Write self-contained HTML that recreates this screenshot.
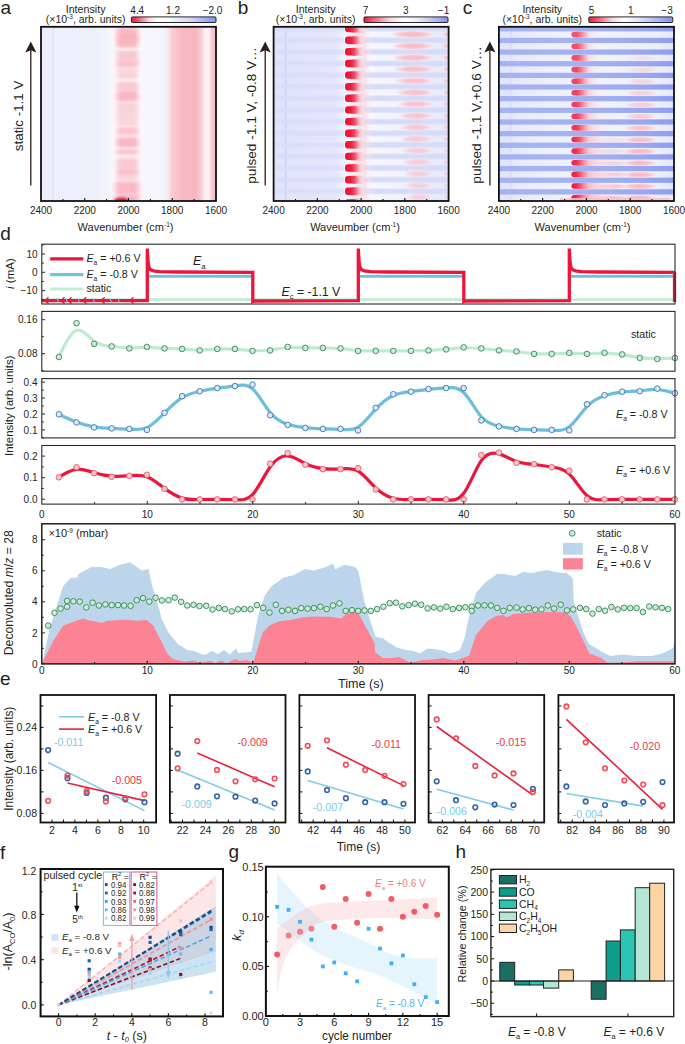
<!DOCTYPE html>
<html><head><meta charset="utf-8"><style>
html,body{margin:0;padding:0;background:#fff;overflow:hidden;width:685px;height:1044px;}
svg{display:block;}
text{font-family:"Liberation Sans", sans-serif;}
</style></head><body>
<svg width="685" height="1044" viewBox="0 0 685 1044">
<defs><clipPath id="clip_a"><rect x="41.0" y="26.8" width="175.0" height="174.2"/></clipPath><clipPath id="clip_b"><rect x="273.6" y="26.8" width="175.0" height="174.2"/></clipPath><clipPath id="clip_c"><rect x="498.9" y="26.8" width="175.10000000000002" height="174.2"/></clipPath><filter id="blur1" x="-5%" y="-5%" width="110%" height="110%"><feGaussianBlur stdDeviation="0.9"/></filter><filter id="blur05" x="-5%" y="-5%" width="110%" height="110%"><feGaussianBlur stdDeviation="0.5"/></filter><linearGradient id="ga_bg" x1="0" y1="0" x2="1" y2="0"><stop offset="0" stop-color="#eceffb"/><stop offset="0.337" stop-color="#eef0fb"/><stop offset="0.394" stop-color="#f4f5fd"/><stop offset="0.411" stop-color="#fbf6f9"/><stop offset="0.571" stop-color="#fcf7f9"/><stop offset="0.589" stop-color="#f7f7fd"/><stop offset="0.709" stop-color="#f4f4fc"/><stop offset="0.726" stop-color="#fbe7eb"/><stop offset="0.749" stop-color="#f9ccd5"/><stop offset="0.806" stop-color="#f7b8c4"/><stop offset="0.886" stop-color="#f7b6c2"/><stop offset="0.92" stop-color="#fad2d9"/><stop offset="0.937" stop-color="#fcf0f2"/><stop offset="0.96" stop-color="#fbf1f4"/><stop offset="0.977" stop-color="#f8c8d1"/><stop offset="1" stop-color="#f5b4c1"/></linearGradient><linearGradient id="ga_band" x1="0" y1="0" x2="1" y2="0"><stop offset="0" stop-color="#f8abba" stop-opacity="0"/><stop offset="0.12" stop-color="#f8abba" stop-opacity="0.5"/><stop offset="0.25" stop-color="#f8abba" stop-opacity="1"/><stop offset="0.75" stop-color="#f8abba" stop-opacity="1"/><stop offset="0.88" stop-color="#f8abba" stop-opacity="0.5"/><stop offset="1" stop-color="#f8abba" stop-opacity="0"/></linearGradient><linearGradient id="gredblob" x1="0" y1="0" x2="1" y2="0"><stop offset="0" stop-color="#ec1536"/><stop offset="0.18" stop-color="#ee1c3b"/><stop offset="0.36" stop-color="#f46b84"/><stop offset="0.55" stop-color="#fbc6d0"/><stop offset="0.78" stop-color="#fdeef1" stop-opacity="0.6"/><stop offset="1" stop-color="#ffffff" stop-opacity="0"/></linearGradient><linearGradient id="gredblob_c" x1="0" y1="0" x2="1" y2="0"><stop offset="0" stop-color="#ec1536"/><stop offset="0.15" stop-color="#ee1d3c"/><stop offset="0.4" stop-color="#f4738a"/><stop offset="0.65" stop-color="#fac3cd" stop-opacity="0.9"/><stop offset="0.85" stop-color="#fde8ec" stop-opacity="0.5"/><stop offset="1" stop-color="#ffffff" stop-opacity="0"/></linearGradient><radialGradient id="rgpink" cx="0.5" cy="0.5" r="0.5"><stop offset="0" stop-color="#f8b9c4"/><stop offset="0.5" stop-color="#f9c1ca"/><stop offset="0.8" stop-color="#fbd5dc" stop-opacity="0.7"/><stop offset="1" stop-color="#fdf0f2" stop-opacity="0"/></radialGradient><linearGradient id="gb_bg" x1="0" y1="0" x2="1" y2="0"><stop offset="0" stop-color="#e0e4f9"/><stop offset="0.35" stop-color="#e4e7fa"/><stop offset="0.4" stop-color="#eef0fc"/><stop offset="0.5" stop-color="#f8f8fd"/><stop offset="0.68" stop-color="#f3f4fc"/><stop offset="1" stop-color="#e6e9fa"/></linearGradient><linearGradient id="gc_bg" x1="0" y1="0" x2="1" y2="0"><stop offset="0" stop-color="#a4b1f3"/><stop offset="0.3" stop-color="#a6b3f2"/><stop offset="0.6" stop-color="#a2afef"/><stop offset="0.85" stop-color="#98a7f0"/><stop offset="1" stop-color="#8e9df0"/></linearGradient><linearGradient id="gc_wh" x1="0" y1="0" x2="1" y2="0"><stop offset="0" stop-color="#e2e6fa"/><stop offset="0.07" stop-color="#e2e6fa"/><stop offset="0.08" stop-color="#d9def9"/><stop offset="0.09" stop-color="#e6e9fb"/><stop offset="0.3" stop-color="#eef0fc"/><stop offset="0.6" stop-color="#f1f2fc"/><stop offset="0.9" stop-color="#eceefc"/><stop offset="1" stop-color="#e4e7fb"/></linearGradient><linearGradient id="gc_white" x1="0" y1="0" x2="0" y2="1"><stop offset="0" stop-color="#f6f7fe" stop-opacity="0"/><stop offset="0.22" stop-color="#f6f7fe" stop-opacity="0.97"/><stop offset="0.78" stop-color="#f6f7fe" stop-opacity="0.97"/><stop offset="1" stop-color="#f6f7fe" stop-opacity="0"/></linearGradient><radialGradient id="rgred_c" cx="0.5" cy="0.5" r="0.55" fx="0.08" fy="0.7"><stop offset="0" stop-color="#ee1c3a"/><stop offset="0.22" stop-color="#f03250"/><stop offset="0.5" stop-color="#f5879a" stop-opacity="0.9"/><stop offset="0.8" stop-color="#fbd0d8" stop-opacity="0.6"/><stop offset="1" stop-color="#fde6ea" stop-opacity="0"/></radialGradient><radialGradient id="rgred_b" cx="0.5" cy="0.5" r="0.55" fx="0.05" fy="0.5"><stop offset="0" stop-color="#ec1536"/><stop offset="0.3" stop-color="#ee1f3e"/><stop offset="0.6" stop-color="#f47088" stop-opacity="0.95"/><stop offset="0.85" stop-color="#fbd0d8" stop-opacity="0.6"/><stop offset="1" stop-color="#fde6ea" stop-opacity="0"/></radialGradient><linearGradient id="gbcore" x1="0" y1="0" x2="1" y2="0"><stop offset="0" stop-color="#ec1637"/><stop offset="0.4" stop-color="#ee1c3b"/><stop offset="0.7" stop-color="#f2506a"/><stop offset="1" stop-color="#f68c9d" stop-opacity="0.5"/></linearGradient><linearGradient id="gbtail" x1="0" y1="0" x2="1" y2="0"><stop offset="0" stop-color="#f47f93"/><stop offset="0.3" stop-color="#f7a9b7" stop-opacity="0.9"/><stop offset="0.65" stop-color="#fad0d8" stop-opacity="0.6"/><stop offset="1" stop-color="#fdf0f3" stop-opacity="0"/></linearGradient><linearGradient id="gccore" x1="0" y1="0" x2="1" y2="0"><stop offset="0" stop-color="#ee1a39"/><stop offset="0.25" stop-color="#ef2341"/><stop offset="0.55" stop-color="#f35a73"/><stop offset="1" stop-color="#f8a5b2" stop-opacity="0.3"/></linearGradient><linearGradient id="gctail" x1="0" y1="0" x2="1" y2="0"><stop offset="0" stop-color="#f47f93"/><stop offset="0.35" stop-color="#f8b2bf" stop-opacity="0.9"/><stop offset="0.7" stop-color="#fbd6dd" stop-opacity="0.55"/><stop offset="1" stop-color="#fdf0f3" stop-opacity="0"/></linearGradient><linearGradient id="gb_stripe" x1="0" y1="0" x2="0" y2="1"><stop offset="0" stop-color="#d6dcf8" stop-opacity="0"/><stop offset="0.3" stop-color="#d6dcf8" stop-opacity="1"/><stop offset="0.7" stop-color="#d6dcf8" stop-opacity="1"/><stop offset="1" stop-color="#d6dcf8" stop-opacity="0"/></linearGradient><linearGradient id="gcb_a" x1="0" y1="0" x2="1" y2="0"><stop offset="0" stop-color="#ee1d3b"/><stop offset="0.08" stop-color="#f2566c"/><stop offset="0.2" stop-color="#fbd0d7"/><stop offset="0.3" stop-color="#ffffff"/><stop offset="0.45" stop-color="#f8f8fe"/><stop offset="0.7" stop-color="#d2d8f7"/><stop offset="1" stop-color="#8393ee"/></linearGradient><linearGradient id="gcb_b" x1="0" y1="0" x2="1" y2="0"><stop offset="0" stop-color="#ee1d3b"/><stop offset="0.12" stop-color="#f3637a"/><stop offset="0.3" stop-color="#fbd4da"/><stop offset="0.48" stop-color="#ffffff"/><stop offset="0.65" stop-color="#e9ecfb"/><stop offset="1" stop-color="#8393ee"/></linearGradient><linearGradient id="gcb_c" x1="0" y1="0" x2="1" y2="0"><stop offset="0" stop-color="#ee1d3b"/><stop offset="0.12" stop-color="#f3637a"/><stop offset="0.28" stop-color="#fbd8de"/><stop offset="0.42" stop-color="#ffffff"/><stop offset="0.6" stop-color="#dfe3f9"/><stop offset="1" stop-color="#8393ee"/></linearGradient><clipPath id="clip_d5"><rect x="41.8" y="523.8" width="633.2" height="140.10000000000002"/></clipPath><clipPath id="clip_e0"><rect x="40.5" y="695.0" width="115.6" height="127.5"/></clipPath><clipPath id="clip_e1"><rect x="169.9" y="695.0" width="115.6" height="127.5"/></clipPath><clipPath id="clip_e2"><rect x="299.4" y="695.0" width="115.6" height="127.5"/></clipPath><clipPath id="clip_e3"><rect x="428.6" y="695.0" width="115.6" height="127.5"/></clipPath><clipPath id="clip_e4"><rect x="558.4" y="695.0" width="115.6" height="127.5"/></clipPath><clipPath id="clip_f"><rect x="40.6" y="869.0" width="182.4" height="147.39999999999998"/></clipPath><clipPath id="clip_g"><rect x="265.9" y="866.7" width="182.90000000000003" height="149.29999999999995"/></clipPath></defs>
<rect x="0" y="0" width="685" height="1044" fill="#fff"/>
<g clip-path="url(#clip_a)">
<rect x="41.00" y="26.80" width="175.00" height="174.20" fill="url(#ga_bg)" stroke="none" stroke-width="1"/>
<line x1="53.00" y1="26.80" x2="53.00" y2="201.00" stroke="#d8ddf8" stroke-width="1.2"/>
<g filter="url(#blur1)">
<rect x="113.5" y="24" width="28.0" height="4.6" rx="2.3" fill="url(#ga_band)" opacity="0.50"/>
<rect x="113.5" y="28.6" width="28.0" height="19.0" rx="5.0" fill="url(#ga_band)" opacity="0.80"/>
<rect x="113.5" y="34" width="28.0" height="9.0" rx="4.5" fill="url(#ga_band)" opacity="0.45"/>
<rect x="113.5" y="47.6" width="28.0" height="2.9" rx="1.4" fill="url(#ga_band)" opacity="0.12"/>
<rect x="113.5" y="50.5" width="28.0" height="7.5" rx="3.8" fill="url(#ga_band)" opacity="0.60"/>
<rect x="113.5" y="58" width="28.0" height="9.0" rx="4.5" fill="url(#ga_band)" opacity="0.62"/>
<rect x="113.5" y="62.5" width="28.0" height="3.0" rx="1.5" fill="url(#ga_band)" opacity="0.35"/>
<rect x="113.5" y="67" width="28.0" height="2.0" rx="1.0" fill="url(#ga_band)" opacity="0.35"/>
<rect x="113.5" y="69" width="28.0" height="10.0" rx="5.0" fill="url(#ga_band)" opacity="0.45"/>
<rect x="113.5" y="79" width="28.0" height="3.0" rx="1.5" fill="url(#ga_band)" opacity="0.08"/>
<rect x="113.5" y="82" width="28.0" height="10.0" rx="5.0" fill="url(#ga_band)" opacity="0.60"/>
<rect x="113.5" y="92" width="28.0" height="9.0" rx="4.5" fill="url(#ga_band)" opacity="0.85"/>
<rect x="113.5" y="101" width="28.0" height="2.0" rx="1.0" fill="url(#ga_band)" opacity="0.20"/>
<rect x="113.5" y="103" width="28.0" height="9.0" rx="4.5" fill="url(#ga_band)" opacity="0.50"/>
<rect x="113.5" y="112" width="28.0" height="13.0" rx="5.0" fill="url(#ga_band)" opacity="0.45"/>
<rect x="113.5" y="125" width="28.0" height="2.5" rx="1.2" fill="url(#ga_band)" opacity="0.25"/>
<rect x="113.5" y="127.5" width="28.0" height="6.5" rx="3.2" fill="url(#ga_band)" opacity="0.65"/>
<rect x="113.5" y="134" width="28.0" height="4.0" rx="2.0" fill="url(#ga_band)" opacity="0.35"/>
<rect x="113.5" y="138" width="28.0" height="9.0" rx="4.5" fill="url(#ga_band)" opacity="0.85"/>
<rect x="113.5" y="147" width="28.0" height="2.5" rx="1.2" fill="url(#ga_band)" opacity="0.10"/>
<rect x="113.5" y="149.5" width="28.0" height="4.5" rx="2.2" fill="url(#ga_band)" opacity="0.70"/>
<rect x="113.5" y="154" width="28.0" height="5.0" rx="2.5" fill="url(#ga_band)" opacity="0.20"/>
<rect x="113.5" y="159" width="28.0" height="10.0" rx="5.0" fill="url(#ga_band)" opacity="0.60"/>
<rect x="113.5" y="169" width="28.0" height="6.0" rx="3.0" fill="url(#ga_band)" opacity="0.70"/>
<rect x="113.5" y="175" width="28.0" height="5.0" rx="2.5" fill="url(#ga_band)" opacity="0.45"/>
<rect x="111.5" y="180" width="31.5" height="2.0" rx="1.0" fill="url(#ga_band)" opacity="0.30"/>
<rect x="111.5" y="182" width="31.5" height="11.0" rx="5.0" fill="url(#ga_band)" opacity="0.80"/>
<rect x="111.5" y="193" width="31.5" height="3.0" rx="1.5" fill="url(#ga_band)" opacity="0.60"/>
<rect x="111.5" y="196" width="31.5" height="7.0" rx="3.5" fill="url(#ga_band)" opacity="0.85"/>
<ellipse cx="121.5" cy="200.5" rx="7.5" ry="3.2" fill="#ee1e3c"/>
</g>
</g>
<rect x="41.00" y="26.80" width="175.00" height="174.20" fill="none" stroke="#111" stroke-width="1.8"/>
<g clip-path="url(#clip_b)">
<rect x="273.60" y="26.80" width="175.00" height="174.20" fill="url(#gb_bg)" stroke="none" stroke-width="1"/>
<line x1="285.60" y1="26.80" x2="285.60" y2="201.00" stroke="#cdd4f7" stroke-width="1.8"/>
<g filter="url(#blur05)">
<rect x="273.60" y="13.38" width="70.40" height="7.20" fill="url(#gb_stripe)" stroke="none" stroke-width="1" opacity="0.7"/>
<rect x="364" y="13.1" width="86.60000000000002" height="7.8" rx="3.9" fill="url(#gb_stripe)" opacity="1"/>
<rect x="273.60" y="25.00" width="70.40" height="7.20" fill="url(#gb_stripe)" stroke="none" stroke-width="1" opacity="0.7"/>
<rect x="364" y="24.7" width="86.60000000000002" height="7.8" rx="3.9" fill="url(#gb_stripe)" opacity="1"/>
<rect x="273.60" y="36.62" width="70.40" height="7.20" fill="url(#gb_stripe)" stroke="none" stroke-width="1" opacity="0.7"/>
<rect x="364" y="36.3" width="86.60000000000002" height="7.8" rx="3.9" fill="url(#gb_stripe)" opacity="1"/>
<rect x="273.60" y="48.24" width="70.40" height="7.20" fill="url(#gb_stripe)" stroke="none" stroke-width="1" opacity="0.7"/>
<rect x="364" y="47.9" width="86.60000000000002" height="7.8" rx="3.9" fill="url(#gb_stripe)" opacity="1"/>
<rect x="273.60" y="59.86" width="70.40" height="7.20" fill="url(#gb_stripe)" stroke="none" stroke-width="1" opacity="0.7"/>
<rect x="364" y="59.6" width="86.60000000000002" height="7.8" rx="3.9" fill="url(#gb_stripe)" opacity="1"/>
<rect x="273.60" y="71.48" width="70.40" height="7.20" fill="url(#gb_stripe)" stroke="none" stroke-width="1" opacity="0.7"/>
<rect x="364" y="71.2" width="86.60000000000002" height="7.8" rx="3.9" fill="url(#gb_stripe)" opacity="1"/>
<rect x="273.60" y="83.10" width="70.40" height="7.20" fill="url(#gb_stripe)" stroke="none" stroke-width="1" opacity="0.7"/>
<rect x="364" y="82.8" width="86.60000000000002" height="7.8" rx="3.9" fill="url(#gb_stripe)" opacity="1"/>
<rect x="273.60" y="94.72" width="70.40" height="7.20" fill="url(#gb_stripe)" stroke="none" stroke-width="1" opacity="0.7"/>
<rect x="364" y="94.4" width="86.60000000000002" height="7.8" rx="3.9" fill="url(#gb_stripe)" opacity="1"/>
<rect x="273.60" y="106.34" width="70.40" height="7.20" fill="url(#gb_stripe)" stroke="none" stroke-width="1" opacity="0.7"/>
<rect x="364" y="106.0" width="86.60000000000002" height="7.8" rx="3.9" fill="url(#gb_stripe)" opacity="1"/>
<rect x="273.60" y="117.96" width="70.40" height="7.20" fill="url(#gb_stripe)" stroke="none" stroke-width="1" opacity="0.7"/>
<rect x="364" y="117.7" width="86.60000000000002" height="7.8" rx="3.9" fill="url(#gb_stripe)" opacity="1"/>
<rect x="273.60" y="129.58" width="70.40" height="7.20" fill="url(#gb_stripe)" stroke="none" stroke-width="1" opacity="0.7"/>
<rect x="364" y="129.3" width="86.60000000000002" height="7.8" rx="3.9" fill="url(#gb_stripe)" opacity="1"/>
<rect x="273.60" y="141.20" width="70.40" height="7.20" fill="url(#gb_stripe)" stroke="none" stroke-width="1" opacity="0.7"/>
<rect x="364" y="140.9" width="86.60000000000002" height="7.8" rx="3.9" fill="url(#gb_stripe)" opacity="1"/>
<rect x="273.60" y="152.82" width="70.40" height="7.20" fill="url(#gb_stripe)" stroke="none" stroke-width="1" opacity="0.7"/>
<rect x="364" y="152.5" width="86.60000000000002" height="7.8" rx="3.9" fill="url(#gb_stripe)" opacity="1"/>
<rect x="273.60" y="164.44" width="70.40" height="7.20" fill="url(#gb_stripe)" stroke="none" stroke-width="1" opacity="0.7"/>
<rect x="364" y="164.1" width="86.60000000000002" height="7.8" rx="3.9" fill="url(#gb_stripe)" opacity="1"/>
<rect x="273.60" y="176.06" width="70.40" height="7.20" fill="url(#gb_stripe)" stroke="none" stroke-width="1" opacity="0.7"/>
<rect x="364" y="175.8" width="86.60000000000002" height="7.8" rx="3.9" fill="url(#gb_stripe)" opacity="1"/>
<rect x="273.60" y="187.68" width="70.40" height="7.20" fill="url(#gb_stripe)" stroke="none" stroke-width="1" opacity="0.7"/>
<rect x="364" y="187.4" width="86.60000000000002" height="7.8" rx="3.9" fill="url(#gb_stripe)" opacity="1"/>
<rect x="273.60" y="199.30" width="70.40" height="7.20" fill="url(#gb_stripe)" stroke="none" stroke-width="1" opacity="0.7"/>
<rect x="364" y="199.0" width="86.60000000000002" height="7.8" rx="3.9" fill="url(#gb_stripe)" opacity="1"/>
<ellipse cx="412.5" cy="22.8" rx="23.5" ry="3.9" fill="url(#rgpink)" opacity="1.00"/>
<ellipse cx="447" cy="22.8" rx="4.5" ry="2.6" fill="url(#rgpink)" opacity="0.90"/>
<ellipse cx="362" cy="22.8" rx="9" ry="2.2" fill="url(#rgpink)" opacity="0.35"/>
<ellipse cx="412.5" cy="34.4" rx="23.5" ry="3.9" fill="url(#rgpink)" opacity="1.00"/>
<ellipse cx="447" cy="34.4" rx="4.5" ry="2.6" fill="url(#rgpink)" opacity="0.90"/>
<ellipse cx="362" cy="34.4" rx="9" ry="2.2" fill="url(#rgpink)" opacity="0.35"/>
<ellipse cx="413.0" cy="46.0" rx="22.8" ry="3.9" fill="url(#rgpink)" opacity="0.97"/>
<ellipse cx="447" cy="46.0" rx="4.5" ry="2.6" fill="url(#rgpink)" opacity="0.86"/>
<ellipse cx="362" cy="46.0" rx="9" ry="2.2" fill="url(#rgpink)" opacity="0.35"/>
<ellipse cx="413.4" cy="57.7" rx="22.1" ry="3.9" fill="url(#rgpink)" opacity="0.94"/>
<ellipse cx="447" cy="57.7" rx="4.5" ry="2.6" fill="url(#rgpink)" opacity="0.83"/>
<ellipse cx="362" cy="57.7" rx="9" ry="2.2" fill="url(#rgpink)" opacity="0.35"/>
<ellipse cx="413.9" cy="69.3" rx="21.5" ry="3.9" fill="url(#rgpink)" opacity="0.90"/>
<ellipse cx="447" cy="69.3" rx="4.5" ry="2.6" fill="url(#rgpink)" opacity="0.79"/>
<ellipse cx="362" cy="69.3" rx="9" ry="2.2" fill="url(#rgpink)" opacity="0.35"/>
<ellipse cx="414.4" cy="80.9" rx="20.8" ry="3.9" fill="url(#rgpink)" opacity="0.87"/>
<ellipse cx="447" cy="80.9" rx="4.5" ry="2.6" fill="url(#rgpink)" opacity="0.76"/>
<ellipse cx="362" cy="80.9" rx="9" ry="2.2" fill="url(#rgpink)" opacity="0.35"/>
<ellipse cx="414.8" cy="92.5" rx="20.1" ry="3.9" fill="url(#rgpink)" opacity="0.84"/>
<ellipse cx="447" cy="92.5" rx="4.5" ry="2.6" fill="url(#rgpink)" opacity="0.72"/>
<ellipse cx="362" cy="92.5" rx="9" ry="2.2" fill="url(#rgpink)" opacity="0.35"/>
<ellipse cx="415.3" cy="104.1" rx="19.4" ry="3.9" fill="url(#rgpink)" opacity="0.81"/>
<ellipse cx="447" cy="104.1" rx="4.5" ry="2.6" fill="url(#rgpink)" opacity="0.69"/>
<ellipse cx="362" cy="104.1" rx="9" ry="2.2" fill="url(#rgpink)" opacity="0.35"/>
<ellipse cx="415.8" cy="115.8" rx="18.8" ry="3.9" fill="url(#rgpink)" opacity="0.78"/>
<ellipse cx="447" cy="115.8" rx="4.5" ry="2.6" fill="url(#rgpink)" opacity="0.65"/>
<ellipse cx="362" cy="115.8" rx="9" ry="2.2" fill="url(#rgpink)" opacity="0.35"/>
<ellipse cx="416.2" cy="127.4" rx="18.1" ry="3.9" fill="url(#rgpink)" opacity="0.74"/>
<ellipse cx="447" cy="127.4" rx="4.5" ry="2.6" fill="url(#rgpink)" opacity="0.61"/>
<ellipse cx="362" cy="127.4" rx="9" ry="2.2" fill="url(#rgpink)" opacity="0.35"/>
<ellipse cx="416.7" cy="139.0" rx="17.4" ry="3.9" fill="url(#rgpink)" opacity="0.71"/>
<ellipse cx="447" cy="139.0" rx="4.5" ry="2.6" fill="url(#rgpink)" opacity="0.58"/>
<ellipse cx="362" cy="139.0" rx="9" ry="2.2" fill="url(#rgpink)" opacity="0.35"/>
<ellipse cx="417.1" cy="150.6" rx="16.7" ry="3.9" fill="url(#rgpink)" opacity="0.68"/>
<ellipse cx="447" cy="150.6" rx="4.5" ry="2.6" fill="url(#rgpink)" opacity="0.54"/>
<ellipse cx="362" cy="150.6" rx="9" ry="2.2" fill="url(#rgpink)" opacity="0.35"/>
<ellipse cx="417.6" cy="162.2" rx="16.0" ry="3.9" fill="url(#rgpink)" opacity="0.65"/>
<ellipse cx="447" cy="162.2" rx="4.5" ry="2.6" fill="url(#rgpink)" opacity="0.51"/>
<ellipse cx="362" cy="162.2" rx="9" ry="2.2" fill="url(#rgpink)" opacity="0.35"/>
<ellipse cx="418.1" cy="173.8" rx="15.4" ry="3.9" fill="url(#rgpink)" opacity="0.61"/>
<ellipse cx="447" cy="173.8" rx="4.5" ry="2.6" fill="url(#rgpink)" opacity="0.47"/>
<ellipse cx="362" cy="173.8" rx="9" ry="2.2" fill="url(#rgpink)" opacity="0.35"/>
<ellipse cx="418.5" cy="185.5" rx="14.7" ry="3.9" fill="url(#rgpink)" opacity="0.58"/>
<ellipse cx="447" cy="185.5" rx="4.5" ry="2.6" fill="url(#rgpink)" opacity="0.44"/>
<ellipse cx="362" cy="185.5" rx="9" ry="2.2" fill="url(#rgpink)" opacity="0.35"/>
<ellipse cx="419.0" cy="197.1" rx="14.0" ry="3.9" fill="url(#rgpink)" opacity="0.55"/>
<ellipse cx="447" cy="197.1" rx="4.5" ry="2.6" fill="url(#rgpink)" opacity="0.40"/>
<ellipse cx="362" cy="197.1" rx="9" ry="2.2" fill="url(#rgpink)" opacity="0.35"/>
<ellipse cx="419.0" cy="208.7" rx="14.0" ry="3.9" fill="url(#rgpink)" opacity="0.55"/>
<ellipse cx="447" cy="208.7" rx="4.5" ry="2.6" fill="url(#rgpink)" opacity="0.40"/>
<ellipse cx="362" cy="208.7" rx="9" ry="2.2" fill="url(#rgpink)" opacity="0.35"/>
<rect x="349" y="24.3" width="24" height="8.6" rx="4.3" fill="url(#gbtail)"/>
<rect x="345.0" y="24.9" width="14" height="7.4" rx="3.0" fill="url(#gbcore)"/>
<rect x="349" y="35.9" width="24" height="8.6" rx="4.3" fill="url(#gbtail)"/>
<rect x="345.0" y="36.5" width="14" height="7.4" rx="3.0" fill="url(#gbcore)"/>
<rect x="349" y="47.5" width="24" height="8.6" rx="4.3" fill="url(#gbtail)"/>
<rect x="345.0" y="48.1" width="14" height="7.4" rx="3.0" fill="url(#gbcore)"/>
<rect x="349" y="59.2" width="24" height="8.6" rx="4.3" fill="url(#gbtail)"/>
<rect x="345.0" y="59.8" width="14" height="7.4" rx="3.0" fill="url(#gbcore)"/>
<rect x="349" y="70.8" width="24" height="8.6" rx="4.3" fill="url(#gbtail)"/>
<rect x="345.0" y="71.4" width="14" height="7.4" rx="3.0" fill="url(#gbcore)"/>
<rect x="349" y="82.4" width="24" height="8.6" rx="4.3" fill="url(#gbtail)"/>
<rect x="345.0" y="83.0" width="14" height="7.4" rx="3.0" fill="url(#gbcore)"/>
<rect x="349" y="94.0" width="24" height="8.6" rx="4.3" fill="url(#gbtail)"/>
<rect x="345.0" y="94.6" width="14" height="7.4" rx="3.0" fill="url(#gbcore)"/>
<rect x="349" y="105.6" width="24" height="8.6" rx="4.3" fill="url(#gbtail)"/>
<rect x="345.0" y="106.2" width="14" height="7.4" rx="3.0" fill="url(#gbcore)"/>
<rect x="349" y="117.3" width="24" height="8.6" rx="4.3" fill="url(#gbtail)"/>
<rect x="345.0" y="117.9" width="14" height="7.4" rx="3.0" fill="url(#gbcore)"/>
<rect x="349" y="128.9" width="24" height="8.6" rx="4.3" fill="url(#gbtail)"/>
<rect x="345.0" y="129.5" width="14" height="7.4" rx="3.0" fill="url(#gbcore)"/>
<rect x="349" y="140.5" width="24" height="8.6" rx="4.3" fill="url(#gbtail)"/>
<rect x="345.0" y="141.1" width="14" height="7.4" rx="3.0" fill="url(#gbcore)"/>
<rect x="349" y="152.1" width="24" height="8.6" rx="4.3" fill="url(#gbtail)"/>
<rect x="345.0" y="152.7" width="14" height="7.4" rx="3.0" fill="url(#gbcore)"/>
<rect x="349" y="163.7" width="24" height="8.6" rx="4.3" fill="url(#gbtail)"/>
<rect x="345.0" y="164.3" width="14" height="7.4" rx="3.0" fill="url(#gbcore)"/>
<rect x="349" y="175.4" width="24" height="8.6" rx="4.3" fill="url(#gbtail)"/>
<rect x="345.0" y="176.0" width="14" height="7.4" rx="3.0" fill="url(#gbcore)"/>
<rect x="349" y="187.0" width="24" height="8.6" rx="4.3" fill="url(#gbtail)"/>
<rect x="345.0" y="187.6" width="14" height="7.4" rx="3.0" fill="url(#gbcore)"/>
<rect x="349" y="198.6" width="24" height="8.6" rx="4.3" fill="url(#gbtail)"/>
<rect x="345.0" y="199.2" width="14" height="7.4" rx="3.0" fill="url(#gbcore)"/>
</g>
</g>
<rect x="273.60" y="26.80" width="175.00" height="174.20" fill="none" stroke="#111" stroke-width="1.8"/>
<g clip-path="url(#clip_c)">
<rect x="498.90" y="26.80" width="175.10" height="174.20" fill="url(#gc_bg)" stroke="none" stroke-width="1"/>
<g filter="url(#blur05)">
<rect x="496.90" y="31.40" width="179.10" height="6.40" fill="url(#gc_wh)" stroke="none" stroke-width="1"/>
<rect x="496.90" y="43.05" width="179.10" height="6.40" fill="url(#gc_wh)" stroke="none" stroke-width="1"/>
<rect x="496.90" y="54.70" width="179.10" height="6.40" fill="url(#gc_wh)" stroke="none" stroke-width="1"/>
<rect x="496.90" y="66.35" width="179.10" height="6.40" fill="url(#gc_wh)" stroke="none" stroke-width="1"/>
<rect x="496.90" y="78.00" width="179.10" height="6.40" fill="url(#gc_wh)" stroke="none" stroke-width="1"/>
<rect x="496.90" y="89.65" width="179.10" height="6.40" fill="url(#gc_wh)" stroke="none" stroke-width="1"/>
<rect x="496.90" y="101.30" width="179.10" height="6.40" fill="url(#gc_wh)" stroke="none" stroke-width="1"/>
<rect x="496.90" y="112.95" width="179.10" height="6.40" fill="url(#gc_wh)" stroke="none" stroke-width="1"/>
<rect x="496.90" y="124.60" width="179.10" height="6.40" fill="url(#gc_wh)" stroke="none" stroke-width="1"/>
<rect x="496.90" y="136.25" width="179.10" height="6.40" fill="url(#gc_wh)" stroke="none" stroke-width="1"/>
<rect x="496.90" y="147.90" width="179.10" height="6.40" fill="url(#gc_wh)" stroke="none" stroke-width="1"/>
<rect x="496.90" y="159.55" width="179.10" height="6.40" fill="url(#gc_wh)" stroke="none" stroke-width="1"/>
<rect x="496.90" y="171.20" width="179.10" height="6.40" fill="url(#gc_wh)" stroke="none" stroke-width="1"/>
<rect x="496.90" y="182.85" width="179.10" height="6.40" fill="url(#gc_wh)" stroke="none" stroke-width="1"/>
<rect x="496.90" y="194.50" width="179.10" height="6.40" fill="url(#gc_wh)" stroke="none" stroke-width="1"/>
</g>
<g filter="url(#blur05)">
<rect x="575" y="31.5" width="24.0" height="6.2" rx="3.1" fill="url(#gctail)" opacity="0.60"/>
<rect x="571.4" y="31.8" width="17" height="5.6" rx="2.8" fill="url(#gccore)" opacity="0.72"/>
<rect x="575" y="43.1" width="25.0" height="6.2" rx="3.1" fill="url(#gctail)" opacity="0.63"/>
<rect x="571.4" y="43.5" width="17" height="5.6" rx="2.8" fill="url(#gccore)" opacity="0.74"/>
<ellipse cx="642.4" cy="58.2" rx="15.6" ry="3.3" fill="url(#rgpink)" opacity="0.30"/>
<rect x="575" y="54.8" width="26.0" height="6.2" rx="3.1" fill="url(#gctail)" opacity="0.66"/>
<rect x="571.4" y="55.1" width="17" height="5.6" rx="2.8" fill="url(#gccore)" opacity="0.76"/>
<ellipse cx="642.1" cy="69.9" rx="15.9" ry="3.3" fill="url(#rgpink)" opacity="0.39"/>
<rect x="575" y="66.5" width="27.0" height="6.2" rx="3.1" fill="url(#gctail)" opacity="0.69"/>
<rect x="571.4" y="66.8" width="17" height="5.6" rx="2.8" fill="url(#gccore)" opacity="0.78"/>
<ellipse cx="641.9" cy="81.5" rx="16.1" ry="3.3" fill="url(#rgpink)" opacity="0.48"/>
<rect x="575" y="78.1" width="28.0" height="6.2" rx="3.1" fill="url(#gctail)" opacity="0.71"/>
<rect x="571.4" y="78.4" width="17" height="5.6" rx="2.8" fill="url(#gccore)" opacity="0.80"/>
<ellipse cx="641.6" cy="93.1" rx="16.4" ry="3.3" fill="url(#rgpink)" opacity="0.57"/>
<rect x="575" y="89.8" width="29.0" height="6.2" rx="3.1" fill="url(#gctail)" opacity="0.74"/>
<rect x="571.4" y="90.0" width="17" height="5.6" rx="2.8" fill="url(#gccore)" opacity="0.82"/>
<ellipse cx="641.3" cy="104.8" rx="16.7" ry="3.3" fill="url(#rgpink)" opacity="0.66"/>
<rect x="575" y="101.4" width="30.0" height="6.2" rx="3.1" fill="url(#gctail)" opacity="0.77"/>
<rect x="571.4" y="101.7" width="17" height="5.6" rx="2.8" fill="url(#gccore)" opacity="0.84"/>
<ellipse cx="641.0" cy="116.5" rx="17.0" ry="3.3" fill="url(#rgpink)" opacity="0.75"/>
<rect x="575" y="113.1" width="31.0" height="6.2" rx="3.1" fill="url(#gctail)" opacity="0.80"/>
<rect x="571.4" y="113.4" width="17" height="5.6" rx="2.8" fill="url(#gccore)" opacity="0.86"/>
<ellipse cx="640.7" cy="128.1" rx="17.3" ry="3.3" fill="url(#rgpink)" opacity="0.84"/>
<rect x="575" y="124.7" width="32.0" height="6.2" rx="3.1" fill="url(#gctail)" opacity="0.83"/>
<rect x="571.4" y="125.0" width="17" height="5.6" rx="2.8" fill="url(#gccore)" opacity="0.88"/>
<ellipse cx="640.4" cy="139.8" rx="17.6" ry="3.3" fill="url(#rgpink)" opacity="0.93"/>
<ellipse cx="610" cy="139.8" rx="22" ry="3.0" fill="url(#rgpink)" opacity="0.30"/>
<rect x="575" y="136.4" width="33.0" height="6.2" rx="3.1" fill="url(#gctail)" opacity="0.86"/>
<rect x="571.4" y="136.7" width="17" height="5.6" rx="2.8" fill="url(#gccore)" opacity="0.90"/>
<ellipse cx="640.1" cy="151.4" rx="17.9" ry="3.3" fill="url(#rgpink)" opacity="1.00"/>
<ellipse cx="610" cy="151.4" rx="22" ry="3.0" fill="url(#rgpink)" opacity="0.42"/>
<rect x="575" y="148.0" width="34.0" height="6.2" rx="3.1" fill="url(#gctail)" opacity="0.89"/>
<rect x="571.4" y="148.3" width="17" height="5.6" rx="2.8" fill="url(#gccore)" opacity="0.92"/>
<ellipse cx="639.9" cy="163.1" rx="18.1" ry="3.3" fill="url(#rgpink)" opacity="1.00"/>
<ellipse cx="610" cy="163.1" rx="22" ry="3.0" fill="url(#rgpink)" opacity="0.54"/>
<rect x="575" y="159.7" width="35.0" height="6.2" rx="3.1" fill="url(#gctail)" opacity="0.91"/>
<rect x="571.4" y="159.9" width="17" height="5.6" rx="2.8" fill="url(#gccore)" opacity="0.94"/>
<ellipse cx="639.6" cy="174.7" rx="18.4" ry="3.3" fill="url(#rgpink)" opacity="1.00"/>
<ellipse cx="610" cy="174.7" rx="22" ry="3.0" fill="url(#rgpink)" opacity="0.66"/>
<rect x="575" y="171.3" width="36.0" height="6.2" rx="3.1" fill="url(#gctail)" opacity="0.94"/>
<rect x="571.4" y="171.6" width="17" height="5.6" rx="2.8" fill="url(#gccore)" opacity="0.96"/>
<ellipse cx="639.3" cy="186.4" rx="18.7" ry="3.3" fill="url(#rgpink)" opacity="1.00"/>
<ellipse cx="610" cy="186.4" rx="22" ry="3.0" fill="url(#rgpink)" opacity="0.78"/>
<rect x="575" y="183.0" width="37.0" height="6.2" rx="3.1" fill="url(#gctail)" opacity="0.97"/>
<rect x="571.4" y="183.2" width="17" height="5.6" rx="2.8" fill="url(#gccore)" opacity="0.98"/>
<ellipse cx="639.0" cy="198.0" rx="19.0" ry="3.3" fill="url(#rgpink)" opacity="1.00"/>
<ellipse cx="610" cy="198.0" rx="22" ry="3.0" fill="url(#rgpink)" opacity="0.90"/>
<rect x="575" y="194.6" width="38.0" height="6.2" rx="3.1" fill="url(#gctail)" opacity="1.00"/>
<rect x="571.4" y="194.9" width="17" height="5.6" rx="2.8" fill="url(#gccore)" opacity="1.00"/>
<rect x="560" y="198.0" width="110" height="4" fill="#f8c0ca" opacity="0.85"/>
</g>
</g>
<rect x="498.90" y="26.80" width="175.10" height="174.20" fill="none" stroke="#111" stroke-width="1.8"/>
<text x="41.0" y="213.5" font-size="10" text-anchor="middle" fill="#231f20">2400</text>
<line x1="62.88" y1="201.00" x2="62.88" y2="199.00" stroke="#111" stroke-width="1.1"/>
<line x1="84.75" y1="201.00" x2="84.75" y2="198.00" stroke="#111" stroke-width="1.1"/>
<text x="84.8" y="213.5" font-size="10" text-anchor="middle" fill="#231f20">2200</text>
<line x1="106.62" y1="201.00" x2="106.62" y2="199.00" stroke="#111" stroke-width="1.1"/>
<line x1="128.50" y1="201.00" x2="128.50" y2="198.00" stroke="#111" stroke-width="1.1"/>
<text x="128.5" y="213.5" font-size="10" text-anchor="middle" fill="#231f20">2000</text>
<line x1="150.38" y1="201.00" x2="150.38" y2="199.00" stroke="#111" stroke-width="1.1"/>
<line x1="172.25" y1="201.00" x2="172.25" y2="198.00" stroke="#111" stroke-width="1.1"/>
<text x="172.2" y="213.5" font-size="10" text-anchor="middle" fill="#231f20">1800</text>
<line x1="194.12" y1="201.00" x2="194.12" y2="199.00" stroke="#111" stroke-width="1.1"/>
<text x="216.0" y="213.5" font-size="10" text-anchor="middle" fill="#231f20">1600</text>
<text x="273.6" y="213.5" font-size="10" text-anchor="middle" fill="#231f20">2400</text>
<line x1="295.48" y1="201.00" x2="295.48" y2="199.00" stroke="#111" stroke-width="1.1"/>
<line x1="317.35" y1="201.00" x2="317.35" y2="198.00" stroke="#111" stroke-width="1.1"/>
<text x="317.4" y="213.5" font-size="10" text-anchor="middle" fill="#231f20">2200</text>
<line x1="339.23" y1="201.00" x2="339.23" y2="199.00" stroke="#111" stroke-width="1.1"/>
<line x1="361.10" y1="201.00" x2="361.10" y2="198.00" stroke="#111" stroke-width="1.1"/>
<text x="361.1" y="213.5" font-size="10" text-anchor="middle" fill="#231f20">2000</text>
<line x1="382.98" y1="201.00" x2="382.98" y2="199.00" stroke="#111" stroke-width="1.1"/>
<line x1="404.85" y1="201.00" x2="404.85" y2="198.00" stroke="#111" stroke-width="1.1"/>
<text x="404.9" y="213.5" font-size="10" text-anchor="middle" fill="#231f20">1800</text>
<line x1="426.73" y1="201.00" x2="426.73" y2="199.00" stroke="#111" stroke-width="1.1"/>
<text x="448.6" y="213.5" font-size="10" text-anchor="middle" fill="#231f20">1600</text>
<text x="498.9" y="213.5" font-size="10" text-anchor="middle" fill="#231f20">2400</text>
<line x1="520.79" y1="201.00" x2="520.79" y2="199.00" stroke="#111" stroke-width="1.1"/>
<line x1="542.67" y1="201.00" x2="542.67" y2="198.00" stroke="#111" stroke-width="1.1"/>
<text x="542.7" y="213.5" font-size="10" text-anchor="middle" fill="#231f20">2200</text>
<line x1="564.56" y1="201.00" x2="564.56" y2="199.00" stroke="#111" stroke-width="1.1"/>
<line x1="586.45" y1="201.00" x2="586.45" y2="198.00" stroke="#111" stroke-width="1.1"/>
<text x="586.5" y="213.5" font-size="10" text-anchor="middle" fill="#231f20">2000</text>
<line x1="608.34" y1="201.00" x2="608.34" y2="199.00" stroke="#111" stroke-width="1.1"/>
<line x1="630.23" y1="201.00" x2="630.23" y2="198.00" stroke="#111" stroke-width="1.1"/>
<text x="630.2" y="213.5" font-size="10" text-anchor="middle" fill="#231f20">1800</text>
<line x1="652.11" y1="201.00" x2="652.11" y2="199.00" stroke="#111" stroke-width="1.1"/>
<text x="674.0" y="213.5" font-size="10" text-anchor="middle" fill="#231f20">1600</text>
<text x="125.5" y="230.7" font-size="11" text-anchor="middle" fill="#231f20">Wavenumber (cm<tspan font-size="6.5" dy="-4">-1</tspan><tspan dy="4">)</tspan></text>
<text x="355.0" y="230.7" font-size="11" text-anchor="middle" fill="#231f20">Waveumber (cm<tspan font-size="6.5" dy="-4">-1</tspan><tspan dy="4">)</tspan></text>
<text x="582.5" y="230.7" font-size="11" text-anchor="middle" fill="#231f20">Wavenumber (cm<tspan font-size="6.5" dy="-4">-1</tspan><tspan dy="4">)</tspan></text>
<rect x="131.4" y="16.9" width="84.6" height="5.6" rx="1" fill="url(#gcb_a)" stroke="#111" stroke-width="0.9"/>
<text x="137.2" y="14.2" font-size="10" text-anchor="middle" fill="#231f20">4.4</text>
<text x="173.0" y="14.2" font-size="10" text-anchor="middle" fill="#231f20">1.2</text>
<text x="212.5" y="14.2" font-size="10" text-anchor="middle" fill="#231f20">−2.0</text>
<text x="85.6" y="12.6" font-size="10.7" text-anchor="middle" fill="#231f20">Intensity</text>
<text x="85.6" y="23.2" font-size="10.5" text-anchor="middle" fill="#231f20">(×10<tspan font-size="6.5" dy="-4">-3</tspan><tspan dy="4">, arb. units)</tspan></text>
<rect x="364.0" y="16.9" width="84.0" height="5.6" rx="1" fill="url(#gcb_b)" stroke="#111" stroke-width="0.9"/>
<text x="365.6" y="14.2" font-size="10" text-anchor="middle" fill="#231f20">7</text>
<text x="405.7" y="14.2" font-size="10" text-anchor="middle" fill="#231f20">3</text>
<text x="443.5" y="14.2" font-size="10" text-anchor="middle" fill="#231f20">−1</text>
<text x="315.6" y="12.6" font-size="10.7" text-anchor="middle" fill="#231f20">Intensity</text>
<text x="315.6" y="23.2" font-size="10.5" text-anchor="middle" fill="#231f20">(×10<tspan font-size="6.5" dy="-4">-3</tspan><tspan dy="4">, arb. units)</tspan></text>
<rect x="588.8" y="16.9" width="84.0" height="5.6" rx="1" fill="url(#gcb_c)" stroke="#111" stroke-width="0.9"/>
<text x="591.5" y="14.2" font-size="10" text-anchor="middle" fill="#231f20">5</text>
<text x="630.7" y="14.2" font-size="10" text-anchor="middle" fill="#231f20">1</text>
<text x="667.0" y="14.2" font-size="10" text-anchor="middle" fill="#231f20">−3</text>
<text x="542.3" y="12.6" font-size="10.7" text-anchor="middle" fill="#231f20">Intensity</text>
<text x="542.3" y="23.2" font-size="10.5" text-anchor="middle" fill="#231f20">(×10<tspan font-size="6.5" dy="-4">-3</tspan><tspan dy="4">, arb. units)</tspan></text>
<text x="0.5" y="13.8" font-size="19" text-anchor="start" fill="#231f20">a</text>
<text x="237.8" y="14.0" font-size="19" text-anchor="start" fill="#231f20">b</text>
<text x="462.8" y="14.0" font-size="19" text-anchor="start" fill="#231f20">c</text>
<line x1="30.80" y1="185.50" x2="30.80" y2="50.00" stroke="#2b1d1d" stroke-width="1.3"/>
<polygon points="30.8,41.5 25.2,52.5 30.8,50.3 36.4,52.5" fill="#2b1d1d" stroke="none" stroke-width="1"/>
<line x1="265.20" y1="185.50" x2="265.20" y2="50.00" stroke="#2b1d1d" stroke-width="1.3"/>
<polygon points="265.2,41.5 259.6,52.5 265.2,50.3 270.8,52.5" fill="#2b1d1d" stroke="none" stroke-width="1"/>
<line x1="489.90" y1="185.50" x2="489.90" y2="50.00" stroke="#2b1d1d" stroke-width="1.3"/>
<polygon points="489.9,41.5 484.3,52.5 489.9,50.3 495.5,52.5" fill="#2b1d1d" stroke="none" stroke-width="1"/>
<text x="23.0" y="115.9" font-size="13.4" text-anchor="middle" fill="#231f20" textLength="70.6" lengthAdjust="spacingAndGlyphs" transform="rotate(-90 23.0 115.9)">static -1.1 V</text>
<text x="256.2" y="115.4" font-size="13.5" text-anchor="middle" fill="#231f20" textLength="136.6" lengthAdjust="spacingAndGlyphs" transform="rotate(-90 256.2 115.4)">pulsed -1.1 V, -0.8 V…</text>
<text x="480.9" y="115.0" font-size="13.5" text-anchor="middle" fill="#231f20" textLength="137.5" lengthAdjust="spacingAndGlyphs" transform="rotate(-90 480.9 115.0)">pulsed -1.1 V,+0.6 V…</text>
<text x="0.3" y="239.5" font-size="19" text-anchor="start" fill="#231f20">d</text>
<line x1="41.80" y1="299.60" x2="675.00" y2="299.60" stroke="#c3ebd6" stroke-width="2.8"/>
<line x1="148.30" y1="276.40" x2="252.30" y2="276.40" stroke="#6fc0dd" stroke-width="2.8"/>
<line x1="359.30" y1="276.40" x2="463.30" y2="276.40" stroke="#6fc0dd" stroke-width="2.8"/>
<line x1="570.30" y1="276.40" x2="674.30" y2="276.40" stroke="#6fc0dd" stroke-width="2.8"/>
<path d="M41.8,300.6 L147.3,300.6 L147.3,300.6 L147.3,248.6 L148.1,262 L148.9,267 L150.3,269.5 L153.3,270.8 L159.3,271.6 L177.3,272.0 L252.8,272.3 L252.8,301.5 L254.3,301.0 L358.3,300.6 L358.3,300.6 L358.3,248.6 L359.1,262 L359.9,267 L361.3,269.5 L364.3,270.8 L370.3,271.6 L388.3,272.0 L463.8,272.3 L463.8,301.5 L465.3,301.0 L569.3,300.6 L569.3,300.6 L569.3,248.6 L570.1,262 L570.9,267 L572.3,269.5 L575.3,270.8 L581.3,271.6 L599.3,272.0 L674.8,272.3 L674.5,272.3 L674.5,302" fill="none" stroke="#e8173b" stroke-width="3.3" stroke-linejoin="miter"/>
<polyline points="48.5,297.2 45.0,300.6 48.5,303.6" fill="none" stroke="#e8173b" stroke-width="1.3"/>
<polyline points="64.5,297.2 61.0,300.6 64.5,303.6" fill="none" stroke="#e8173b" stroke-width="1.3"/>
<polyline points="71.5,297.2 68.0,300.6 71.5,303.6" fill="none" stroke="#e8173b" stroke-width="1.3"/>
<polyline points="86.3,297.2 82.8,300.6 86.3,303.6" fill="none" stroke="#e8173b" stroke-width="1.3"/>
<polyline points="104.7,297.2 101.2,300.6 104.7,303.6" fill="none" stroke="#e8173b" stroke-width="1.3"/>
<polyline points="133.5,297.2 130.0,300.6 133.5,303.6" fill="none" stroke="#e8173b" stroke-width="1.3"/>
<polyline points="57.0,298.0 58.5,302.5" fill="none" stroke="#8ccbe4" stroke-width="1"/>
<polyline points="66.0,298.0 67.5,302.5" fill="none" stroke="#8ccbe4" stroke-width="1"/>
<polyline points="78.0,298.0 79.5,302.5" fill="none" stroke="#8ccbe4" stroke-width="1"/>
<polyline points="93.0,298.0 94.5,302.5" fill="none" stroke="#8ccbe4" stroke-width="1"/>
<polyline points="110.0,298.0 111.5,302.5" fill="none" stroke="#8ccbe4" stroke-width="1"/>
<polyline points="118.0,298.0 119.5,302.5" fill="none" stroke="#8ccbe4" stroke-width="1"/>
<rect x="41.80" y="244.20" width="633.20" height="59.80" fill="none" stroke="#2a2a2a" stroke-width="1.1"/>
<line x1="41.80" y1="254.00" x2="45.00" y2="254.00" stroke="#2a2a2a" stroke-width="1"/>
<line x1="41.80" y1="272.30" x2="45.00" y2="272.30" stroke="#2a2a2a" stroke-width="1"/>
<line x1="41.80" y1="290.60" x2="45.00" y2="290.60" stroke="#2a2a2a" stroke-width="1"/>
<line x1="41.80" y1="244.85" x2="43.80" y2="244.85" stroke="#2a2a2a" stroke-width="1"/>
<line x1="41.80" y1="263.15" x2="43.80" y2="263.15" stroke="#2a2a2a" stroke-width="1"/>
<line x1="41.80" y1="281.45" x2="43.80" y2="281.45" stroke="#2a2a2a" stroke-width="1"/>
<line x1="41.80" y1="299.75" x2="43.80" y2="299.75" stroke="#2a2a2a" stroke-width="1"/>
<text x="37.5" y="257.6" font-size="10" text-anchor="end" fill="#231f20">10</text>
<text x="37.5" y="275.9" font-size="10" text-anchor="end" fill="#231f20">0</text>
<text x="37.5" y="294.2" font-size="10" text-anchor="end" fill="#231f20">−10</text>
<line x1="50.20" y1="258.90" x2="83.40" y2="258.90" stroke="#e8173b" stroke-width="3.2"/>
<line x1="50.20" y1="274.70" x2="83.40" y2="274.70" stroke="#72c1de" stroke-width="3.2"/>
<line x1="50.20" y1="289.00" x2="83.40" y2="289.00" stroke="#c3ebd6" stroke-width="3.2"/>
<text x="86.4" y="262.2" font-size="10.7" fill="#231f20" text-anchor="start"><tspan font-style="italic">E</tspan><tspan font-size="6.6" dy="3.0">a</tspan><tspan dy="-3.0"> = +0.6 V</tspan></text>
<text x="86.4" y="277.9" font-size="10.7" fill="#231f20" text-anchor="start"><tspan font-style="italic">E</tspan><tspan font-size="6.6" dy="3.0">a</tspan><tspan dy="-3.0"> = -0.8 V</tspan></text>
<text x="86.4" y="292.0" font-size="10.7" text-anchor="start" fill="#231f20">static</text>
<text x="193.0" y="265.2" font-size="12.5" fill="#231f20" text-anchor="start"><tspan font-style="italic">E</tspan><tspan font-size="7.8" dy="3.5">a</tspan><tspan dy="-3.5"></tspan></text>
<text x="281.5" y="295.5" font-size="12.3" fill="#231f20" text-anchor="start"><tspan font-style="italic">E</tspan><tspan font-size="7.6" dy="3.4">c</tspan><tspan dy="-3.4"> = -1.1 V</tspan></text>
<text x="14.2" y="273.6" font-size="11.5" text-anchor="middle" fill="#231f20" transform="rotate(-90 14.2 273.6)"><tspan font-style="italic">i</tspan> (mA)</text>
<path d="M58.9,357.0 C58.9,357.0 58.9,357.0 61.8,350.8 C64.8,344.7 70.6,332.3 76.5,330.3 C82.4,328.3 88.2,336.6 94.1,341.0 C100.0,345.5 105.8,345.9 111.7,346.5 C117.6,347.2 123.4,347.9 129.3,347.9 C135.2,348.0 141.0,347.4 146.9,347.3 C152.8,347.3 158.6,347.9 164.5,348.2 C170.4,348.6 176.2,348.7 182.1,349.1 C188.0,349.4 193.8,350.0 199.7,350.0 C205.6,350.0 211.4,349.4 217.3,349.1 C223.2,348.8 229.0,348.8 234.9,349.2 C240.8,349.5 246.6,350.3 252.5,350.6 C258.4,350.9 264.2,350.7 270.1,350.0 C276.0,349.3 281.8,347.9 287.7,347.5 C293.6,347.1 299.4,347.5 305.3,347.7 C311.2,347.9 317.0,347.9 322.9,348.0 C328.8,348.0 334.6,348.1 340.5,348.7 C346.4,349.2 352.2,350.1 358.1,350.6 C364.0,351.0 369.8,350.9 375.7,350.9 C381.6,350.9 387.4,350.9 393.3,350.9 C399.2,350.9 405.0,350.9 410.9,350.8 C416.8,350.8 422.6,350.6 428.5,350.4 C434.4,350.1 440.2,349.8 446.1,349.2 C452.0,348.7 457.8,348.0 463.7,347.8 C469.6,347.6 475.4,348.0 481.3,348.5 C487.2,349.0 493.0,349.8 498.9,350.2 C504.8,350.7 510.6,351.0 516.5,351.6 C522.4,352.2 528.2,353.1 534.1,353.6 C540.0,354.0 545.8,354.0 551.7,353.8 C557.6,353.6 563.4,353.2 569.3,353.2 C575.2,353.2 581.0,353.6 586.9,353.6 C592.8,353.6 598.6,353.2 604.5,353.2 C610.4,353.3 616.2,353.8 622.1,354.7 C628.0,355.5 633.8,356.8 639.7,357.6 C645.6,358.4 651.4,358.8 657.3,358.7 C663.2,358.7 669.0,358.3 672.0,358.1 C674.9,357.9 674.9,357.9 674.9,357.9" fill="none" stroke="#bfe9d3" stroke-width="3.2" stroke-linecap="round"/>
<circle cx="58.9" cy="357.0" r="2.8" fill="#c9eed9" stroke="#3d8456" stroke-width="0.9"/>
<circle cx="76.5" cy="323.2" r="2.8" fill="#c9eed9" stroke="#3d8456" stroke-width="0.9"/>
<circle cx="94.1" cy="343.9" r="2.8" fill="#c9eed9" stroke="#3d8456" stroke-width="0.9"/>
<circle cx="111.7" cy="346.4" r="2.8" fill="#c9eed9" stroke="#3d8456" stroke-width="0.9"/>
<circle cx="129.3" cy="348.4" r="2.8" fill="#c9eed9" stroke="#3d8456" stroke-width="0.9"/>
<circle cx="146.9" cy="346.9" r="2.8" fill="#c9eed9" stroke="#3d8456" stroke-width="0.9"/>
<circle cx="164.5" cy="348.4" r="2.8" fill="#c9eed9" stroke="#3d8456" stroke-width="0.9"/>
<circle cx="182.1" cy="348.9" r="2.8" fill="#c9eed9" stroke="#3d8456" stroke-width="0.9"/>
<circle cx="199.7" cy="350.4" r="2.8" fill="#c9eed9" stroke="#3d8456" stroke-width="0.9"/>
<circle cx="217.3" cy="348.9" r="2.8" fill="#c9eed9" stroke="#3d8456" stroke-width="0.9"/>
<circle cx="234.9" cy="348.9" r="2.8" fill="#c9eed9" stroke="#3d8456" stroke-width="0.9"/>
<circle cx="252.5" cy="350.9" r="2.8" fill="#c9eed9" stroke="#3d8456" stroke-width="0.9"/>
<circle cx="270.1" cy="350.4" r="2.8" fill="#c9eed9" stroke="#3d8456" stroke-width="0.9"/>
<circle cx="287.7" cy="346.9" r="2.8" fill="#c9eed9" stroke="#3d8456" stroke-width="0.9"/>
<circle cx="305.3" cy="347.9" r="2.8" fill="#c9eed9" stroke="#3d8456" stroke-width="0.9"/>
<circle cx="322.9" cy="347.9" r="2.8" fill="#c9eed9" stroke="#3d8456" stroke-width="0.9"/>
<circle cx="340.5" cy="348.4" r="2.8" fill="#c9eed9" stroke="#3d8456" stroke-width="0.9"/>
<circle cx="358.1" cy="350.9" r="2.8" fill="#c9eed9" stroke="#3d8456" stroke-width="0.9"/>
<circle cx="375.7" cy="350.9" r="2.8" fill="#c9eed9" stroke="#3d8456" stroke-width="0.9"/>
<circle cx="393.3" cy="350.9" r="2.8" fill="#c9eed9" stroke="#3d8456" stroke-width="0.9"/>
<circle cx="410.9" cy="350.9" r="2.8" fill="#c9eed9" stroke="#3d8456" stroke-width="0.9"/>
<circle cx="428.5" cy="350.4" r="2.8" fill="#c9eed9" stroke="#3d8456" stroke-width="0.9"/>
<circle cx="446.1" cy="349.4" r="2.8" fill="#c9eed9" stroke="#3d8456" stroke-width="0.9"/>
<circle cx="463.7" cy="347.4" r="2.8" fill="#c9eed9" stroke="#3d8456" stroke-width="0.9"/>
<circle cx="481.3" cy="348.4" r="2.8" fill="#c9eed9" stroke="#3d8456" stroke-width="0.9"/>
<circle cx="498.9" cy="350.4" r="2.8" fill="#c9eed9" stroke="#3d8456" stroke-width="0.9"/>
<circle cx="516.5" cy="351.4" r="2.8" fill="#c9eed9" stroke="#3d8456" stroke-width="0.9"/>
<circle cx="534.1" cy="353.9" r="2.8" fill="#c9eed9" stroke="#3d8456" stroke-width="0.9"/>
<circle cx="551.7" cy="353.9" r="2.8" fill="#c9eed9" stroke="#3d8456" stroke-width="0.9"/>
<circle cx="569.3" cy="352.9" r="2.8" fill="#c9eed9" stroke="#3d8456" stroke-width="0.9"/>
<circle cx="586.9" cy="353.9" r="2.8" fill="#c9eed9" stroke="#3d8456" stroke-width="0.9"/>
<circle cx="604.5" cy="352.9" r="2.8" fill="#c9eed9" stroke="#3d8456" stroke-width="0.9"/>
<circle cx="622.1" cy="354.4" r="2.8" fill="#c9eed9" stroke="#3d8456" stroke-width="0.9"/>
<circle cx="639.7" cy="357.9" r="2.8" fill="#c9eed9" stroke="#3d8456" stroke-width="0.9"/>
<circle cx="657.3" cy="359.0" r="2.8" fill="#c9eed9" stroke="#3d8456" stroke-width="0.9"/>
<circle cx="674.9" cy="357.9" r="2.8" fill="#c9eed9" stroke="#3d8456" stroke-width="0.9"/>
<rect x="41.80" y="311.40" width="633.20" height="59.80" fill="none" stroke="#2a2a2a" stroke-width="1.1"/>
<line x1="41.80" y1="319.70" x2="45.00" y2="319.70" stroke="#2a2a2a" stroke-width="1"/>
<line x1="41.80" y1="353.70" x2="45.00" y2="353.70" stroke="#2a2a2a" stroke-width="1"/>
<line x1="41.80" y1="336.70" x2="43.80" y2="336.70" stroke="#2a2a2a" stroke-width="1"/>
<line x1="41.80" y1="370.70" x2="43.80" y2="370.70" stroke="#2a2a2a" stroke-width="1"/>
<text x="37.5" y="323.3" font-size="10" text-anchor="end" fill="#231f20">0.16</text>
<text x="37.5" y="357.3" font-size="10" text-anchor="end" fill="#231f20">0.08</text>
<text x="631.0" y="338.0" font-size="10.7" text-anchor="start" fill="#231f20">static</text>
<path d="M58.9,414.3 C58.9,414.3 58.9,414.3 61.8,415.7 C64.8,417.1 70.6,419.8 76.5,422.0 C82.4,424.3 88.2,425.9 94.1,426.9 C100.0,427.9 105.8,428.2 111.7,428.4 C117.6,428.6 123.4,428.7 129.3,429.1 C135.2,429.6 141.0,430.3 146.9,427.6 C152.8,424.9 158.6,418.8 164.5,412.9 C170.4,407.0 176.2,401.3 182.1,397.7 C188.0,394.0 193.8,392.6 199.7,391.3 C205.6,390.1 211.4,389.1 217.3,388.2 C223.2,387.4 229.0,386.7 234.9,385.8 C240.8,385.0 246.6,383.8 252.5,388.9 C258.4,394.0 264.2,405.3 270.1,412.4 C276.0,419.4 281.8,422.4 287.7,424.3 C293.6,426.2 299.4,427.1 305.3,427.7 C311.2,428.3 317.0,428.6 322.9,428.8 C328.8,428.9 334.6,428.9 340.5,429.3 C346.4,429.8 352.2,430.8 358.1,427.2 C364.0,423.6 369.8,415.5 375.7,409.1 C381.6,402.7 387.4,398.1 393.3,395.5 C399.2,392.9 405.0,392.3 410.9,391.6 C416.8,390.8 422.6,389.9 428.5,389.3 C434.4,388.7 440.2,388.4 446.1,387.9 C452.0,387.4 457.8,386.8 463.7,392.5 C469.6,398.1 475.4,410.0 481.3,416.8 C487.2,423.5 493.0,425.0 498.9,426.2 C504.8,427.4 510.6,428.2 516.5,428.8 C522.4,429.3 528.2,429.6 534.1,429.8 C540.0,429.9 545.8,429.9 551.7,430.2 C557.6,430.6 563.4,431.3 569.3,426.8 C575.2,422.4 581.0,412.8 586.9,406.6 C592.8,400.4 598.6,397.7 604.5,395.7 C610.4,393.8 616.2,392.6 622.1,392.1 C628.0,391.5 633.8,391.4 639.7,390.8 C645.6,390.3 651.4,389.2 657.3,389.5 C663.2,389.9 669.0,391.5 672.0,392.4 C674.9,393.2 674.9,393.2 674.9,393.2" fill="none" stroke="#6cbedc" stroke-width="3.2" stroke-linecap="round"/>
<circle cx="58.9" cy="414.3" r="2.8" fill="#d8eaf7" stroke="#3e72b3" stroke-width="0.9"/>
<circle cx="76.5" cy="422.4" r="2.8" fill="#d8eaf7" stroke="#3e72b3" stroke-width="0.9"/>
<circle cx="94.1" cy="427.4" r="2.8" fill="#d8eaf7" stroke="#3e72b3" stroke-width="0.9"/>
<circle cx="111.7" cy="428.4" r="2.8" fill="#d8eaf7" stroke="#3e72b3" stroke-width="0.9"/>
<circle cx="129.3" cy="428.9" r="2.8" fill="#d8eaf7" stroke="#3e72b3" stroke-width="0.9"/>
<circle cx="146.9" cy="429.9" r="2.8" fill="#d8eaf7" stroke="#3e72b3" stroke-width="0.9"/>
<circle cx="164.5" cy="412.8" r="2.8" fill="#d8eaf7" stroke="#3e72b3" stroke-width="0.9"/>
<circle cx="182.1" cy="396.2" r="2.8" fill="#d8eaf7" stroke="#3e72b3" stroke-width="0.9"/>
<circle cx="199.7" cy="391.2" r="2.8" fill="#d8eaf7" stroke="#3e72b3" stroke-width="0.9"/>
<circle cx="217.3" cy="388.1" r="2.8" fill="#d8eaf7" stroke="#3e72b3" stroke-width="0.9"/>
<circle cx="234.9" cy="386.1" r="2.8" fill="#d8eaf7" stroke="#3e72b3" stroke-width="0.9"/>
<circle cx="252.5" cy="384.6" r="2.8" fill="#d8eaf7" stroke="#3e72b3" stroke-width="0.9"/>
<circle cx="270.1" cy="415.3" r="2.8" fill="#d8eaf7" stroke="#3e72b3" stroke-width="0.9"/>
<circle cx="287.7" cy="424.9" r="2.8" fill="#d8eaf7" stroke="#3e72b3" stroke-width="0.9"/>
<circle cx="305.3" cy="427.9" r="2.8" fill="#d8eaf7" stroke="#3e72b3" stroke-width="0.9"/>
<circle cx="322.9" cy="428.9" r="2.8" fill="#d8eaf7" stroke="#3e72b3" stroke-width="0.9"/>
<circle cx="340.5" cy="428.9" r="2.8" fill="#d8eaf7" stroke="#3e72b3" stroke-width="0.9"/>
<circle cx="358.1" cy="430.4" r="2.8" fill="#d8eaf7" stroke="#3e72b3" stroke-width="0.9"/>
<circle cx="375.7" cy="407.8" r="2.8" fill="#d8eaf7" stroke="#3e72b3" stroke-width="0.9"/>
<circle cx="393.3" cy="394.2" r="2.8" fill="#d8eaf7" stroke="#3e72b3" stroke-width="0.9"/>
<circle cx="410.9" cy="391.7" r="2.8" fill="#d8eaf7" stroke="#3e72b3" stroke-width="0.9"/>
<circle cx="428.5" cy="389.1" r="2.8" fill="#d8eaf7" stroke="#3e72b3" stroke-width="0.9"/>
<circle cx="446.1" cy="388.1" r="2.8" fill="#d8eaf7" stroke="#3e72b3" stroke-width="0.9"/>
<circle cx="463.7" cy="388.1" r="2.8" fill="#d8eaf7" stroke="#3e72b3" stroke-width="0.9"/>
<circle cx="481.3" cy="420.4" r="2.8" fill="#d8eaf7" stroke="#3e72b3" stroke-width="0.9"/>
<circle cx="498.9" cy="426.4" r="2.8" fill="#d8eaf7" stroke="#3e72b3" stroke-width="0.9"/>
<circle cx="516.5" cy="428.9" r="2.8" fill="#d8eaf7" stroke="#3e72b3" stroke-width="0.9"/>
<circle cx="534.1" cy="429.9" r="2.8" fill="#d8eaf7" stroke="#3e72b3" stroke-width="0.9"/>
<circle cx="551.7" cy="429.9" r="2.8" fill="#d8eaf7" stroke="#3e72b3" stroke-width="0.9"/>
<circle cx="569.3" cy="430.4" r="2.8" fill="#d8eaf7" stroke="#3e72b3" stroke-width="0.9"/>
<circle cx="586.9" cy="404.2" r="2.8" fill="#d8eaf7" stroke="#3e72b3" stroke-width="0.9"/>
<circle cx="604.5" cy="395.2" r="2.8" fill="#d8eaf7" stroke="#3e72b3" stroke-width="0.9"/>
<circle cx="622.1" cy="391.7" r="2.8" fill="#d8eaf7" stroke="#3e72b3" stroke-width="0.9"/>
<circle cx="639.7" cy="391.2" r="2.8" fill="#d8eaf7" stroke="#3e72b3" stroke-width="0.9"/>
<circle cx="657.3" cy="388.6" r="2.8" fill="#d8eaf7" stroke="#3e72b3" stroke-width="0.9"/>
<circle cx="674.9" cy="393.2" r="2.8" fill="#d8eaf7" stroke="#3e72b3" stroke-width="0.9"/>
<rect x="41.80" y="378.60" width="633.20" height="59.30" fill="none" stroke="#2a2a2a" stroke-width="1.1"/>
<line x1="41.80" y1="382.11" x2="45.00" y2="382.11" stroke="#2a2a2a" stroke-width="1"/>
<line x1="41.80" y1="398.04" x2="45.00" y2="398.04" stroke="#2a2a2a" stroke-width="1"/>
<line x1="41.80" y1="413.97" x2="45.00" y2="413.97" stroke="#2a2a2a" stroke-width="1"/>
<line x1="41.80" y1="429.90" x2="45.00" y2="429.90" stroke="#2a2a2a" stroke-width="1"/>
<line x1="41.80" y1="390.07" x2="43.80" y2="390.07" stroke="#2a2a2a" stroke-width="1"/>
<line x1="41.80" y1="406.00" x2="43.80" y2="406.00" stroke="#2a2a2a" stroke-width="1"/>
<line x1="41.80" y1="421.94" x2="43.80" y2="421.94" stroke="#2a2a2a" stroke-width="1"/>
<line x1="41.80" y1="437.86" x2="43.80" y2="437.86" stroke="#2a2a2a" stroke-width="1"/>
<text x="37.5" y="385.7" font-size="10" text-anchor="end" fill="#231f20">0.4</text>
<text x="37.5" y="401.6" font-size="10" text-anchor="end" fill="#231f20">0.3</text>
<text x="37.5" y="417.6" font-size="10" text-anchor="end" fill="#231f20">0.2</text>
<text x="37.5" y="433.5" font-size="10" text-anchor="end" fill="#231f20">0.1</text>
<text x="616.0" y="417.8" font-size="10.7" fill="#231f20" text-anchor="start"><tspan font-style="italic">E</tspan><tspan font-size="6.6" dy="3.0">a</tspan><tspan dy="-3.0"> = -0.8 V</tspan></text>
<path d="M58.9,477.3 C58.9,477.3 58.9,477.3 61.8,475.5 C64.8,473.6 70.6,469.9 76.5,469.3 C82.4,468.6 88.2,471.0 94.1,472.8 C100.0,474.6 105.8,475.8 111.7,476.2 C117.6,476.6 123.4,476.2 129.3,475.7 C135.2,475.2 141.0,474.5 146.9,476.8 C152.8,479.0 158.6,484.0 164.5,488.4 C170.4,492.7 176.2,496.4 182.1,498.1 C188.0,499.8 193.8,499.6 199.7,499.5 C205.6,499.4 211.4,499.4 217.3,499.4 C223.2,499.4 229.0,499.4 234.9,499.7 C240.8,500.1 246.6,500.8 252.5,494.6 C258.4,488.4 264.2,475.3 270.1,467.0 C276.0,458.8 281.8,455.3 287.7,455.8 C293.6,456.2 299.4,460.7 305.3,463.6 C311.2,466.6 317.0,468.0 322.9,468.7 C328.8,469.4 334.6,469.3 340.5,468.9 C346.4,468.5 352.2,467.7 358.1,471.2 C364.0,474.6 369.8,482.3 375.7,487.9 C381.6,493.4 387.4,496.7 393.3,498.2 C399.2,499.8 405.0,499.6 410.9,499.5 C416.8,499.4 422.6,499.4 428.5,499.4 C434.4,499.4 440.2,499.4 446.1,499.8 C452.0,500.3 457.8,501.1 463.7,493.3 C469.6,485.5 475.4,469.1 481.3,460.7 C487.2,452.4 493.0,452.1 498.9,453.9 C504.8,455.6 510.6,459.4 516.5,461.5 C522.4,463.5 528.2,463.8 534.1,464.5 C540.0,465.1 545.8,466.2 551.7,467.0 C557.6,467.9 563.4,468.5 569.3,474.2 C575.2,479.8 581.0,490.5 586.9,495.5 C592.8,500.5 598.6,500.0 604.5,499.7 C610.4,499.4 616.2,499.4 622.1,499.4 C628.0,499.4 633.8,499.4 639.7,499.4 C645.6,499.4 651.4,499.4 657.3,499.4 C663.2,499.4 669.0,499.4 672.0,499.4 C674.9,499.4 674.9,499.4 674.9,499.4" fill="none" stroke="#e8173b" stroke-width="3.2" stroke-linecap="round"/>
<circle cx="58.9" cy="477.3" r="2.8" fill="#fbc6c2" stroke="#e4586a" stroke-width="0.9"/>
<circle cx="76.5" cy="467.2" r="2.8" fill="#fbc6c2" stroke="#e4586a" stroke-width="0.9"/>
<circle cx="94.1" cy="473.2" r="2.8" fill="#fbc6c2" stroke="#e4586a" stroke-width="0.9"/>
<circle cx="111.7" cy="476.8" r="2.8" fill="#fbc6c2" stroke="#e4586a" stroke-width="0.9"/>
<circle cx="129.3" cy="475.8" r="2.8" fill="#fbc6c2" stroke="#e4586a" stroke-width="0.9"/>
<circle cx="146.9" cy="474.8" r="2.8" fill="#fbc6c2" stroke="#e4586a" stroke-width="0.9"/>
<circle cx="164.5" cy="488.9" r="2.8" fill="#fbc6c2" stroke="#e4586a" stroke-width="0.9"/>
<circle cx="182.1" cy="499.4" r="2.8" fill="#fbc6c2" stroke="#e4586a" stroke-width="0.9"/>
<circle cx="199.7" cy="499.4" r="2.8" fill="#fbc6c2" stroke="#e4586a" stroke-width="0.9"/>
<circle cx="217.3" cy="499.4" r="2.8" fill="#fbc6c2" stroke="#e4586a" stroke-width="0.9"/>
<circle cx="234.9" cy="499.4" r="2.8" fill="#fbc6c2" stroke="#e4586a" stroke-width="0.9"/>
<circle cx="252.5" cy="499.4" r="2.8" fill="#fbc6c2" stroke="#e4586a" stroke-width="0.9"/>
<circle cx="270.1" cy="463.7" r="2.8" fill="#fbc6c2" stroke="#e4586a" stroke-width="0.9"/>
<circle cx="287.7" cy="453.1" r="2.8" fill="#fbc6c2" stroke="#e4586a" stroke-width="0.9"/>
<circle cx="305.3" cy="464.7" r="2.8" fill="#fbc6c2" stroke="#e4586a" stroke-width="0.9"/>
<circle cx="322.9" cy="469.2" r="2.8" fill="#fbc6c2" stroke="#e4586a" stroke-width="0.9"/>
<circle cx="340.5" cy="469.2" r="2.8" fill="#fbc6c2" stroke="#e4586a" stroke-width="0.9"/>
<circle cx="358.1" cy="468.2" r="2.8" fill="#fbc6c2" stroke="#e4586a" stroke-width="0.9"/>
<circle cx="375.7" cy="489.4" r="2.8" fill="#fbc6c2" stroke="#e4586a" stroke-width="0.9"/>
<circle cx="393.3" cy="499.4" r="2.8" fill="#fbc6c2" stroke="#e4586a" stroke-width="0.9"/>
<circle cx="410.9" cy="499.4" r="2.8" fill="#fbc6c2" stroke="#e4586a" stroke-width="0.9"/>
<circle cx="428.5" cy="499.4" r="2.8" fill="#fbc6c2" stroke="#e4586a" stroke-width="0.9"/>
<circle cx="446.1" cy="499.4" r="2.8" fill="#fbc6c2" stroke="#e4586a" stroke-width="0.9"/>
<circle cx="463.7" cy="499.4" r="2.8" fill="#fbc6c2" stroke="#e4586a" stroke-width="0.9"/>
<circle cx="481.3" cy="455.1" r="2.8" fill="#fbc6c2" stroke="#e4586a" stroke-width="0.9"/>
<circle cx="498.9" cy="452.6" r="2.8" fill="#fbc6c2" stroke="#e4586a" stroke-width="0.9"/>
<circle cx="516.5" cy="462.7" r="2.8" fill="#fbc6c2" stroke="#e4586a" stroke-width="0.9"/>
<circle cx="534.1" cy="464.2" r="2.8" fill="#fbc6c2" stroke="#e4586a" stroke-width="0.9"/>
<circle cx="551.7" cy="467.2" r="2.8" fill="#fbc6c2" stroke="#e4586a" stroke-width="0.9"/>
<circle cx="569.3" cy="470.7" r="2.8" fill="#fbc6c2" stroke="#e4586a" stroke-width="0.9"/>
<circle cx="586.9" cy="499.4" r="2.8" fill="#fbc6c2" stroke="#e4586a" stroke-width="0.9"/>
<circle cx="604.5" cy="499.4" r="2.8" fill="#fbc6c2" stroke="#e4586a" stroke-width="0.9"/>
<circle cx="622.1" cy="499.4" r="2.8" fill="#fbc6c2" stroke="#e4586a" stroke-width="0.9"/>
<circle cx="639.7" cy="499.4" r="2.8" fill="#fbc6c2" stroke="#e4586a" stroke-width="0.9"/>
<circle cx="657.3" cy="499.4" r="2.8" fill="#fbc6c2" stroke="#e4586a" stroke-width="0.9"/>
<circle cx="674.9" cy="499.4" r="2.8" fill="#fbc6c2" stroke="#e4586a" stroke-width="0.9"/>
<rect x="41.80" y="445.50" width="633.20" height="58.60" fill="none" stroke="#2a2a2a" stroke-width="1.1"/>
<line x1="41.80" y1="456.10" x2="45.00" y2="456.10" stroke="#2a2a2a" stroke-width="1"/>
<line x1="41.80" y1="477.65" x2="45.00" y2="477.65" stroke="#2a2a2a" stroke-width="1"/>
<line x1="41.80" y1="499.20" x2="45.00" y2="499.20" stroke="#2a2a2a" stroke-width="1"/>
<line x1="41.80" y1="466.88" x2="43.80" y2="466.88" stroke="#2a2a2a" stroke-width="1"/>
<line x1="41.80" y1="488.43" x2="43.80" y2="488.43" stroke="#2a2a2a" stroke-width="1"/>
<text x="37.5" y="459.7" font-size="10" text-anchor="end" fill="#231f20">0.2</text>
<text x="37.5" y="481.2" font-size="10" text-anchor="end" fill="#231f20">0.1</text>
<text x="37.5" y="502.8" font-size="10" text-anchor="end" fill="#231f20">0.0</text>
<text x="616.0" y="474.3" font-size="10.7" fill="#231f20" text-anchor="start"><tspan font-style="italic">E</tspan><tspan font-size="6.6" dy="3.0">a</tspan><tspan dy="-3.0"> = +0.6 V</tspan></text>
<text x="41.8" y="517.6" font-size="10" text-anchor="middle" fill="#231f20">0</text>
<line x1="94.55" y1="504.10" x2="94.55" y2="502.10" stroke="#2a2a2a" stroke-width="1"/>
<line x1="147.30" y1="504.10" x2="147.30" y2="500.90" stroke="#2a2a2a" stroke-width="1"/>
<text x="147.3" y="517.6" font-size="10" text-anchor="middle" fill="#231f20">10</text>
<line x1="200.05" y1="504.10" x2="200.05" y2="502.10" stroke="#2a2a2a" stroke-width="1"/>
<line x1="252.80" y1="504.10" x2="252.80" y2="500.90" stroke="#2a2a2a" stroke-width="1"/>
<text x="252.8" y="517.6" font-size="10" text-anchor="middle" fill="#231f20">20</text>
<line x1="305.55" y1="504.10" x2="305.55" y2="502.10" stroke="#2a2a2a" stroke-width="1"/>
<line x1="358.30" y1="504.10" x2="358.30" y2="500.90" stroke="#2a2a2a" stroke-width="1"/>
<text x="358.3" y="517.6" font-size="10" text-anchor="middle" fill="#231f20">30</text>
<line x1="411.05" y1="504.10" x2="411.05" y2="502.10" stroke="#2a2a2a" stroke-width="1"/>
<line x1="463.80" y1="504.10" x2="463.80" y2="500.90" stroke="#2a2a2a" stroke-width="1"/>
<text x="463.8" y="517.6" font-size="10" text-anchor="middle" fill="#231f20">40</text>
<line x1="516.55" y1="504.10" x2="516.55" y2="502.10" stroke="#2a2a2a" stroke-width="1"/>
<line x1="569.30" y1="504.10" x2="569.30" y2="500.90" stroke="#2a2a2a" stroke-width="1"/>
<text x="569.3" y="517.6" font-size="10" text-anchor="middle" fill="#231f20">50</text>
<line x1="622.05" y1="504.10" x2="622.05" y2="502.10" stroke="#2a2a2a" stroke-width="1"/>
<text x="674.8" y="517.6" font-size="10" text-anchor="middle" fill="#231f20">60</text>
<text x="13.4" y="405.7" font-size="11.5" text-anchor="middle" fill="#231f20" transform="rotate(-90 13.4 405.7)" textLength="100.5" lengthAdjust="spacingAndGlyphs">Intensity (arb. units)</text>
<g clip-path="url(#clip_d5)">
<polygon points="41.8,663.8 42.3,662.8 49.3,630.0 56.4,606.7 63.4,585.7 70.4,578.2 77.4,577.5 78.5,574.0 91.4,567.0 100.7,567.0 110.0,568.9 119.4,565.1 129.9,562.3 141.6,570.5 148.6,568.9 152.1,585.7 156.8,599.7 161.5,618.4 168.5,632.4 177.8,644.1 187.2,650.0 194.2,651.1 200.0,653.4 205.0,655.0 212.0,651.0 218.0,654.0 224.0,650.0 230.0,654.5 236.0,648.0 238.0,653.0 250.0,652.0 251.5,651.0 258.0,616.0 265.0,595.0 272.0,585.7 283.8,577.5 293.0,575.2 304.8,569.3 314.0,570.5 325.8,567.0 332.8,563.5 335.2,569.3 344.5,564.7 355.0,567.0 358.2,570.5 364.0,599.7 371.0,623.1 375.7,637.1 382.7,638.3 389.7,642.9 396.7,647.6 406.0,649.9 413.0,651.1 420.0,653.4 427.0,648.8 431.8,648.8 443.4,650.6 450.4,653.4 459.8,649.9 464.5,638.3 469.1,616.0 476.1,592.7 485.5,582.2 497.2,574.0 504.2,574.0 510.0,575.2 515.5,575.8 523.4,571.8 531.3,573.1 547.0,570.0 557.5,572.6 566.7,573.1 572.8,578.4 573.8,602.0 578.6,617.8 583.8,633.6 589.1,644.1 599.6,650.6 610.1,655.9 623.2,654.6 636.4,655.9 652.1,655.9 662.6,653.3 673.2,648.0 675.0,640.0 675.0,663.9" fill="#bdd5ea" stroke="none" stroke-width="1"/>
<polygon points="41.8,663.8 42.3,662.8 54.0,639.4 63.4,625.4 75.0,621.2 83.2,618.4 86.7,619.8 101.9,623.1 107.7,620.7 117.1,620.3 126.4,619.8 138.1,620.7 146.3,620.0 153.3,625.4 159.1,637.1 167.3,653.4 173.1,659.3 184.8,661.6 194.2,660.4 200.0,662.8 210.0,661.0 215.0,663.0 222.0,660.5 226.0,663.5 235.0,659.0 240.0,661.0 247.0,660.0 252.0,662.0 253.4,662.0 262.7,632.4 269.7,625.4 279.0,621.2 293.0,619.6 302.5,617.2 316.5,616.5 330.5,616.8 341.0,618.4 346.8,613.7 355.0,612.6 359.3,614.9 367.5,630.1 374.5,642.9 375.2,652.3 382.7,658.1 392.0,658.1 399.0,657.0 410.7,662.8 420.0,660.4 434.0,659.3 443.4,658.1 455.0,660.4 469.1,655.8 476.1,634.7 487.8,620.7 496.0,616.0 503.0,614.9 506.5,617.2 510.0,616.0 512.9,613.9 531.3,612.5 552.3,612.0 565.4,612.5 570.7,616.5 576.0,625.7 583.8,641.4 589.1,653.3 599.6,657.2 607.5,662.5 623.2,662.5 636.4,661.2 652.1,661.2 668.0,661.2 675.0,661.2 675.0,663.9" fill="#fc8394" stroke="none" stroke-width="1"/>
</g>
<circle cx="48.2" cy="625.6" r="2.8" fill="#c6edd6" stroke="#3a8253" stroke-width="0.9"/>
<circle cx="54.5" cy="612.8" r="2.8" fill="#c6edd6" stroke="#3a8253" stroke-width="0.9"/>
<circle cx="60.6" cy="608.6" r="2.8" fill="#c6edd6" stroke="#3a8253" stroke-width="0.9"/>
<circle cx="67.1" cy="606.7" r="2.8" fill="#c6edd6" stroke="#3a8253" stroke-width="0.9"/>
<circle cx="67.1" cy="600.9" r="2.8" fill="#c6edd6" stroke="#3a8253" stroke-width="0.9"/>
<circle cx="73.4" cy="601.3" r="2.8" fill="#c6edd6" stroke="#3a8253" stroke-width="0.9"/>
<circle cx="79.7" cy="601.6" r="2.8" fill="#c6edd6" stroke="#3a8253" stroke-width="0.9"/>
<circle cx="86.3" cy="607.4" r="2.8" fill="#c6edd6" stroke="#3a8253" stroke-width="0.9"/>
<circle cx="92.6" cy="602.7" r="2.8" fill="#c6edd6" stroke="#3a8253" stroke-width="0.9"/>
<circle cx="98.9" cy="605.5" r="2.8" fill="#c6edd6" stroke="#3a8253" stroke-width="0.9"/>
<circle cx="105.4" cy="604.4" r="2.8" fill="#c6edd6" stroke="#3a8253" stroke-width="0.9"/>
<circle cx="111.7" cy="605.1" r="2.8" fill="#c6edd6" stroke="#3a8253" stroke-width="0.9"/>
<circle cx="118.0" cy="605.1" r="2.8" fill="#c6edd6" stroke="#3a8253" stroke-width="0.9"/>
<circle cx="124.1" cy="605.5" r="2.8" fill="#c6edd6" stroke="#3a8253" stroke-width="0.9"/>
<circle cx="130.6" cy="605.8" r="2.8" fill="#c6edd6" stroke="#3a8253" stroke-width="0.9"/>
<circle cx="136.7" cy="600.2" r="2.8" fill="#c6edd6" stroke="#3a8253" stroke-width="0.9"/>
<circle cx="143.0" cy="598.1" r="2.8" fill="#c6edd6" stroke="#3a8253" stroke-width="0.9"/>
<circle cx="149.3" cy="601.6" r="2.8" fill="#c6edd6" stroke="#3a8253" stroke-width="0.9"/>
<circle cx="155.6" cy="597.8" r="2.8" fill="#c6edd6" stroke="#3a8253" stroke-width="0.9"/>
<circle cx="161.9" cy="600.4" r="2.8" fill="#c6edd6" stroke="#3a8253" stroke-width="0.9"/>
<circle cx="168.5" cy="600.2" r="2.8" fill="#c6edd6" stroke="#3a8253" stroke-width="0.9"/>
<circle cx="174.8" cy="597.6" r="2.8" fill="#c6edd6" stroke="#3a8253" stroke-width="0.9"/>
<circle cx="181.1" cy="601.8" r="2.8" fill="#c6edd6" stroke="#3a8253" stroke-width="0.9"/>
<circle cx="187.2" cy="605.5" r="2.8" fill="#c6edd6" stroke="#3a8253" stroke-width="0.9"/>
<circle cx="193.5" cy="604.8" r="2.8" fill="#c6edd6" stroke="#3a8253" stroke-width="0.9"/>
<circle cx="199.5" cy="606.0" r="2.8" fill="#c6edd6" stroke="#3a8253" stroke-width="0.9"/>
<circle cx="206.2" cy="605.8" r="2.8" fill="#c6edd6" stroke="#3a8253" stroke-width="0.9"/>
<circle cx="212.5" cy="609.5" r="2.8" fill="#c6edd6" stroke="#3a8253" stroke-width="0.9"/>
<circle cx="218.8" cy="607.9" r="2.8" fill="#c6edd6" stroke="#3a8253" stroke-width="0.9"/>
<circle cx="224.9" cy="609.1" r="2.8" fill="#c6edd6" stroke="#3a8253" stroke-width="0.9"/>
<circle cx="231.7" cy="611.4" r="2.8" fill="#c6edd6" stroke="#3a8253" stroke-width="0.9"/>
<circle cx="238.0" cy="609.3" r="2.8" fill="#c6edd6" stroke="#3a8253" stroke-width="0.9"/>
<circle cx="244.3" cy="609.1" r="2.8" fill="#c6edd6" stroke="#3a8253" stroke-width="0.9"/>
<circle cx="250.6" cy="609.3" r="2.8" fill="#c6edd6" stroke="#3a8253" stroke-width="0.9"/>
<circle cx="256.9" cy="605.1" r="2.8" fill="#c6edd6" stroke="#3a8253" stroke-width="0.9"/>
<circle cx="263.2" cy="607.9" r="2.8" fill="#c6edd6" stroke="#3a8253" stroke-width="0.9"/>
<circle cx="269.5" cy="612.6" r="2.8" fill="#c6edd6" stroke="#3a8253" stroke-width="0.9"/>
<circle cx="275.8" cy="604.8" r="2.8" fill="#c6edd6" stroke="#3a8253" stroke-width="0.9"/>
<circle cx="282.1" cy="610.9" r="2.8" fill="#c6edd6" stroke="#3a8253" stroke-width="0.9"/>
<circle cx="288.4" cy="609.8" r="2.8" fill="#c6edd6" stroke="#3a8253" stroke-width="0.9"/>
<circle cx="295.0" cy="610.9" r="2.8" fill="#c6edd6" stroke="#3a8253" stroke-width="0.9"/>
<circle cx="301.3" cy="608.1" r="2.8" fill="#c6edd6" stroke="#3a8253" stroke-width="0.9"/>
<circle cx="307.6" cy="608.6" r="2.8" fill="#c6edd6" stroke="#3a8253" stroke-width="0.9"/>
<circle cx="313.9" cy="608.1" r="2.8" fill="#c6edd6" stroke="#3a8253" stroke-width="0.9"/>
<circle cx="320.4" cy="606.7" r="2.8" fill="#c6edd6" stroke="#3a8253" stroke-width="0.9"/>
<circle cx="326.7" cy="609.1" r="2.8" fill="#c6edd6" stroke="#3a8253" stroke-width="0.9"/>
<circle cx="333.0" cy="605.5" r="2.8" fill="#c6edd6" stroke="#3a8253" stroke-width="0.9"/>
<circle cx="339.4" cy="603.4" r="2.8" fill="#c6edd6" stroke="#3a8253" stroke-width="0.9"/>
<circle cx="345.7" cy="610.9" r="2.8" fill="#c6edd6" stroke="#3a8253" stroke-width="0.9"/>
<circle cx="352.0" cy="610.2" r="2.8" fill="#c6edd6" stroke="#3a8253" stroke-width="0.9"/>
<circle cx="358.2" cy="610.9" r="2.8" fill="#c6edd6" stroke="#3a8253" stroke-width="0.9"/>
<circle cx="364.5" cy="610.5" r="2.8" fill="#c6edd6" stroke="#3a8253" stroke-width="0.9"/>
<circle cx="370.8" cy="610.9" r="2.8" fill="#c6edd6" stroke="#3a8253" stroke-width="0.9"/>
<circle cx="377.1" cy="609.1" r="2.8" fill="#c6edd6" stroke="#3a8253" stroke-width="0.9"/>
<circle cx="383.4" cy="606.7" r="2.8" fill="#c6edd6" stroke="#3a8253" stroke-width="0.9"/>
<circle cx="389.7" cy="603.2" r="2.8" fill="#c6edd6" stroke="#3a8253" stroke-width="0.9"/>
<circle cx="396.0" cy="602.7" r="2.8" fill="#c6edd6" stroke="#3a8253" stroke-width="0.9"/>
<circle cx="402.3" cy="606.3" r="2.8" fill="#c6edd6" stroke="#3a8253" stroke-width="0.9"/>
<circle cx="408.6" cy="605.1" r="2.8" fill="#c6edd6" stroke="#3a8253" stroke-width="0.9"/>
<circle cx="414.9" cy="603.7" r="2.8" fill="#c6edd6" stroke="#3a8253" stroke-width="0.9"/>
<circle cx="421.2" cy="604.8" r="2.8" fill="#c6edd6" stroke="#3a8253" stroke-width="0.9"/>
<circle cx="427.6" cy="608.4" r="2.8" fill="#c6edd6" stroke="#3a8253" stroke-width="0.9"/>
<circle cx="433.9" cy="607.4" r="2.8" fill="#c6edd6" stroke="#3a8253" stroke-width="0.9"/>
<circle cx="440.2" cy="608.6" r="2.8" fill="#c6edd6" stroke="#3a8253" stroke-width="0.9"/>
<circle cx="446.5" cy="606.7" r="2.8" fill="#c6edd6" stroke="#3a8253" stroke-width="0.9"/>
<circle cx="452.8" cy="609.1" r="2.8" fill="#c6edd6" stroke="#3a8253" stroke-width="0.9"/>
<circle cx="459.1" cy="607.9" r="2.8" fill="#c6edd6" stroke="#3a8253" stroke-width="0.9"/>
<circle cx="465.4" cy="607.2" r="2.8" fill="#c6edd6" stroke="#3a8253" stroke-width="0.9"/>
<circle cx="471.7" cy="606.7" r="2.8" fill="#c6edd6" stroke="#3a8253" stroke-width="0.9"/>
<circle cx="471.7" cy="610.9" r="2.8" fill="#c6edd6" stroke="#3a8253" stroke-width="0.9"/>
<circle cx="478.0" cy="605.5" r="2.8" fill="#c6edd6" stroke="#3a8253" stroke-width="0.9"/>
<circle cx="484.5" cy="605.3" r="2.8" fill="#c6edd6" stroke="#3a8253" stroke-width="0.9"/>
<circle cx="490.9" cy="605.5" r="2.8" fill="#c6edd6" stroke="#3a8253" stroke-width="0.9"/>
<circle cx="497.2" cy="607.9" r="2.8" fill="#c6edd6" stroke="#3a8253" stroke-width="0.9"/>
<circle cx="503.5" cy="610.9" r="2.8" fill="#c6edd6" stroke="#3a8253" stroke-width="0.9"/>
<circle cx="509.8" cy="607.9" r="2.8" fill="#c6edd6" stroke="#3a8253" stroke-width="0.9"/>
<circle cx="516.6" cy="607.6" r="2.8" fill="#c6edd6" stroke="#3a8253" stroke-width="0.9"/>
<circle cx="522.6" cy="609.4" r="2.8" fill="#c6edd6" stroke="#3a8253" stroke-width="0.9"/>
<circle cx="528.9" cy="608.1" r="2.8" fill="#c6edd6" stroke="#3a8253" stroke-width="0.9"/>
<circle cx="535.2" cy="609.7" r="2.8" fill="#c6edd6" stroke="#3a8253" stroke-width="0.9"/>
<circle cx="541.5" cy="609.4" r="2.8" fill="#c6edd6" stroke="#3a8253" stroke-width="0.9"/>
<circle cx="547.8" cy="605.5" r="2.8" fill="#c6edd6" stroke="#3a8253" stroke-width="0.9"/>
<circle cx="554.1" cy="608.6" r="2.8" fill="#c6edd6" stroke="#3a8253" stroke-width="0.9"/>
<circle cx="560.7" cy="604.7" r="2.8" fill="#c6edd6" stroke="#3a8253" stroke-width="0.9"/>
<circle cx="567.0" cy="610.4" r="2.8" fill="#c6edd6" stroke="#3a8253" stroke-width="0.9"/>
<circle cx="573.3" cy="609.4" r="2.8" fill="#c6edd6" stroke="#3a8253" stroke-width="0.9"/>
<circle cx="579.9" cy="607.8" r="2.8" fill="#c6edd6" stroke="#3a8253" stroke-width="0.9"/>
<circle cx="586.2" cy="609.1" r="2.8" fill="#c6edd6" stroke="#3a8253" stroke-width="0.9"/>
<circle cx="592.5" cy="613.6" r="2.8" fill="#c6edd6" stroke="#3a8253" stroke-width="0.9"/>
<circle cx="598.8" cy="609.1" r="2.8" fill="#c6edd6" stroke="#3a8253" stroke-width="0.9"/>
<circle cx="605.1" cy="610.7" r="2.8" fill="#c6edd6" stroke="#3a8253" stroke-width="0.9"/>
<circle cx="611.4" cy="607.0" r="2.8" fill="#c6edd6" stroke="#3a8253" stroke-width="0.9"/>
<circle cx="617.7" cy="609.4" r="2.8" fill="#c6edd6" stroke="#3a8253" stroke-width="0.9"/>
<circle cx="624.0" cy="607.8" r="2.8" fill="#c6edd6" stroke="#3a8253" stroke-width="0.9"/>
<circle cx="630.3" cy="608.1" r="2.8" fill="#c6edd6" stroke="#3a8253" stroke-width="0.9"/>
<circle cx="636.6" cy="608.1" r="2.8" fill="#c6edd6" stroke="#3a8253" stroke-width="0.9"/>
<circle cx="642.9" cy="612.0" r="2.8" fill="#c6edd6" stroke="#3a8253" stroke-width="0.9"/>
<circle cx="649.2" cy="606.5" r="2.8" fill="#c6edd6" stroke="#3a8253" stroke-width="0.9"/>
<circle cx="655.6" cy="607.3" r="2.8" fill="#c6edd6" stroke="#3a8253" stroke-width="0.9"/>
<circle cx="661.9" cy="607.8" r="2.8" fill="#c6edd6" stroke="#3a8253" stroke-width="0.9"/>
<circle cx="668.2" cy="609.1" r="2.8" fill="#c6edd6" stroke="#3a8253" stroke-width="0.9"/>
<rect x="41.80" y="523.80" width="633.20" height="140.10" fill="none" stroke="#111" stroke-width="1.4"/>
<line x1="41.80" y1="539.74" x2="45.00" y2="539.74" stroke="#2a2a2a" stroke-width="1"/>
<line x1="41.80" y1="570.78" x2="45.00" y2="570.78" stroke="#2a2a2a" stroke-width="1"/>
<line x1="41.80" y1="601.82" x2="45.00" y2="601.82" stroke="#2a2a2a" stroke-width="1"/>
<line x1="41.80" y1="632.86" x2="45.00" y2="632.86" stroke="#2a2a2a" stroke-width="1"/>
<line x1="41.80" y1="663.90" x2="45.00" y2="663.90" stroke="#2a2a2a" stroke-width="1"/>
<line x1="41.80" y1="555.26" x2="43.80" y2="555.26" stroke="#2a2a2a" stroke-width="1"/>
<line x1="41.80" y1="586.30" x2="43.80" y2="586.30" stroke="#2a2a2a" stroke-width="1"/>
<line x1="41.80" y1="617.34" x2="43.80" y2="617.34" stroke="#2a2a2a" stroke-width="1"/>
<line x1="41.80" y1="648.38" x2="43.80" y2="648.38" stroke="#2a2a2a" stroke-width="1"/>
<text x="37.5" y="543.3" font-size="10" text-anchor="end" fill="#231f20">8</text>
<text x="37.5" y="574.4" font-size="10" text-anchor="end" fill="#231f20">6</text>
<text x="37.5" y="605.4" font-size="10" text-anchor="end" fill="#231f20">4</text>
<text x="37.5" y="636.5" font-size="10" text-anchor="end" fill="#231f20">2</text>
<text x="37.5" y="667.5" font-size="10" text-anchor="end" fill="#231f20">0</text>
<text x="41.8" y="674.3" font-size="10" text-anchor="middle" fill="#231f20">0</text>
<line x1="94.55" y1="663.90" x2="94.55" y2="661.90" stroke="#111" stroke-width="1.1"/>
<line x1="147.30" y1="663.90" x2="147.30" y2="660.70" stroke="#111" stroke-width="1.1"/>
<text x="147.3" y="674.3" font-size="10" text-anchor="middle" fill="#231f20">10</text>
<line x1="200.05" y1="663.90" x2="200.05" y2="661.90" stroke="#111" stroke-width="1.1"/>
<line x1="252.80" y1="663.90" x2="252.80" y2="660.70" stroke="#111" stroke-width="1.1"/>
<text x="252.8" y="674.3" font-size="10" text-anchor="middle" fill="#231f20">20</text>
<line x1="305.55" y1="663.90" x2="305.55" y2="661.90" stroke="#111" stroke-width="1.1"/>
<line x1="358.30" y1="663.90" x2="358.30" y2="660.70" stroke="#111" stroke-width="1.1"/>
<text x="358.3" y="674.3" font-size="10" text-anchor="middle" fill="#231f20">30</text>
<line x1="411.05" y1="663.90" x2="411.05" y2="661.90" stroke="#111" stroke-width="1.1"/>
<line x1="463.80" y1="663.90" x2="463.80" y2="660.70" stroke="#111" stroke-width="1.1"/>
<text x="463.8" y="674.3" font-size="10" text-anchor="middle" fill="#231f20">40</text>
<line x1="516.55" y1="663.90" x2="516.55" y2="661.90" stroke="#111" stroke-width="1.1"/>
<line x1="569.30" y1="663.90" x2="569.30" y2="660.70" stroke="#111" stroke-width="1.1"/>
<text x="569.3" y="674.3" font-size="10" text-anchor="middle" fill="#231f20">50</text>
<line x1="622.05" y1="663.90" x2="622.05" y2="661.90" stroke="#111" stroke-width="1.1"/>
<text x="674.8" y="674.3" font-size="10" text-anchor="middle" fill="#231f20">60</text>
<text x="48.4" y="537.3" font-size="11" fill="#231f20">×10<tspan font-size="6.5" dy="-4">-9</tspan><tspan dy="4"> (mbar)</tspan></text>
<text x="13.5" y="592.7" font-size="12" text-anchor="middle" fill="#231f20" transform="rotate(-90 13.5 592.7)" textLength="125" lengthAdjust="spacingAndGlyphs">Deconvoluted <tspan font-style="italic">m</tspan>/<tspan font-style="italic">z</tspan> = 28</text>
<text x="360.8" y="688.4" font-size="12.6" text-anchor="middle" fill="#231f20">Time (s)</text>
<circle cx="572.2" cy="533.3" r="2.9" fill="#c6edd6" stroke="#3a8253" stroke-width="0.9"/>
<text x="596.7" y="537.4" font-size="10.7" text-anchor="start" fill="#231f20">static</text>
<rect x="563.00" y="542.90" width="19.80" height="11.80" fill="#bdd5ea" stroke="none" stroke-width="1"/>
<rect x="563.00" y="558.20" width="19.80" height="11.30" fill="#fc8394" stroke="none" stroke-width="1"/>
<text x="596.7" y="552.7" font-size="10.7" fill="#231f20" text-anchor="start"><tspan font-style="italic">E</tspan><tspan font-size="6.6" dy="3.0">a</tspan><tspan dy="-3.0"> = -0.8 V</tspan></text>
<text x="596.7" y="568.3" font-size="10.7" fill="#231f20" text-anchor="start"><tspan font-style="italic">E</tspan><tspan font-size="6.6" dy="3.0">a</tspan><tspan dy="-3.0"> = +0.6 V</tspan></text>
<text x="0.0" y="684.8" font-size="19" text-anchor="start" fill="#231f20">e</text>
<g clip-path="url(#clip_e0)">
<line x1="48.10" y1="762.50" x2="144.50" y2="810.60" stroke="#83cbe5" stroke-width="1.6"/>
<line x1="67.50" y1="783.00" x2="144.50" y2="800.60" stroke="#e8203e" stroke-width="1.6"/>
<circle cx="48.1" cy="750.1" r="2.3" fill="none" stroke="#3565a8" stroke-width="1.6"/>
<circle cx="67.5" cy="778.2" r="2.3" fill="none" stroke="#3565a8" stroke-width="1.6"/>
<circle cx="86.7" cy="793.0" r="2.3" fill="none" stroke="#3565a8" stroke-width="1.6"/>
<circle cx="105.9" cy="797.7" r="2.3" fill="none" stroke="#3565a8" stroke-width="1.6"/>
<circle cx="125.3" cy="799.3" r="2.3" fill="none" stroke="#3565a8" stroke-width="1.6"/>
<circle cx="144.5" cy="802.2" r="2.3" fill="none" stroke="#3565a8" stroke-width="1.6"/>
<circle cx="48.1" cy="800.8" r="2.3" fill="none" stroke="#f04c58" stroke-width="1.6"/>
<circle cx="67.5" cy="775.6" r="2.3" fill="none" stroke="#f04c58" stroke-width="1.6"/>
<circle cx="86.7" cy="791.1" r="2.3" fill="none" stroke="#f04c58" stroke-width="1.6"/>
<circle cx="105.9" cy="801.4" r="2.3" fill="none" stroke="#f04c58" stroke-width="1.6"/>
<circle cx="125.3" cy="798.0" r="2.3" fill="none" stroke="#f04c58" stroke-width="1.6"/>
<circle cx="144.5" cy="794.3" r="2.3" fill="none" stroke="#f04c58" stroke-width="1.6"/>
</g>
<rect x="40.50" y="695.00" width="115.60" height="127.50" fill="none" stroke="#111" stroke-width="1.8"/>
<line x1="40.50" y1="705.90" x2="43.50" y2="705.90" stroke="#111" stroke-width="1"/>
<line x1="40.50" y1="727.40" x2="43.50" y2="727.40" stroke="#111" stroke-width="1"/>
<line x1="40.50" y1="748.90" x2="43.50" y2="748.90" stroke="#111" stroke-width="1"/>
<line x1="40.50" y1="770.40" x2="43.50" y2="770.40" stroke="#111" stroke-width="1"/>
<line x1="40.50" y1="791.90" x2="43.50" y2="791.90" stroke="#111" stroke-width="1"/>
<line x1="40.50" y1="813.40" x2="43.50" y2="813.40" stroke="#111" stroke-width="1"/>
<line x1="51.97" y1="822.50" x2="51.97" y2="819.50" stroke="#111" stroke-width="1"/>
<text x="52.0" y="834.3" font-size="10.5" text-anchor="middle" fill="#231f20">2</text>
<line x1="63.44" y1="822.50" x2="63.44" y2="819.50" stroke="#111" stroke-width="1"/>
<line x1="74.91" y1="822.50" x2="74.91" y2="819.50" stroke="#111" stroke-width="1"/>
<text x="74.9" y="834.3" font-size="10.5" text-anchor="middle" fill="#231f20">4</text>
<line x1="86.38" y1="822.50" x2="86.38" y2="819.50" stroke="#111" stroke-width="1"/>
<line x1="97.85" y1="822.50" x2="97.85" y2="819.50" stroke="#111" stroke-width="1"/>
<text x="97.8" y="834.3" font-size="10.5" text-anchor="middle" fill="#231f20">6</text>
<line x1="109.32" y1="822.50" x2="109.32" y2="819.50" stroke="#111" stroke-width="1"/>
<line x1="120.79" y1="822.50" x2="120.79" y2="819.50" stroke="#111" stroke-width="1"/>
<text x="120.8" y="834.3" font-size="10.5" text-anchor="middle" fill="#231f20">8</text>
<line x1="132.26" y1="822.50" x2="132.26" y2="819.50" stroke="#111" stroke-width="1"/>
<line x1="143.73" y1="822.50" x2="143.73" y2="819.50" stroke="#111" stroke-width="1"/>
<text x="143.7" y="834.3" font-size="10.5" text-anchor="middle" fill="#231f20">10</text>
<text x="111.7" y="783.5" font-size="10.7" text-anchor="start" fill="#ee3446">-0.005</text>
<text x="53.9" y="746.2" font-size="10.7" text-anchor="start" fill="#7ccae6">-0.011</text>
<g clip-path="url(#clip_e1)">
<line x1="177.60" y1="769.90" x2="274.60" y2="810.10" stroke="#83cbe5" stroke-width="1.6"/>
<line x1="197.30" y1="752.90" x2="274.60" y2="786.80" stroke="#e8203e" stroke-width="1.6"/>
<circle cx="177.6" cy="753.7" r="2.3" fill="none" stroke="#3565a8" stroke-width="1.6"/>
<circle cx="197.3" cy="786.4" r="2.3" fill="none" stroke="#3565a8" stroke-width="1.6"/>
<circle cx="217.0" cy="796.3" r="2.3" fill="none" stroke="#3565a8" stroke-width="1.6"/>
<circle cx="235.5" cy="796.7" r="2.3" fill="none" stroke="#3565a8" stroke-width="1.6"/>
<circle cx="255.2" cy="800.6" r="2.3" fill="none" stroke="#3565a8" stroke-width="1.6"/>
<circle cx="274.6" cy="803.4" r="2.3" fill="none" stroke="#3565a8" stroke-width="1.6"/>
<circle cx="177.6" cy="768.3" r="2.3" fill="none" stroke="#f04c58" stroke-width="1.6"/>
<circle cx="197.3" cy="741.1" r="2.3" fill="none" stroke="#f04c58" stroke-width="1.6"/>
<circle cx="217.0" cy="769.9" r="2.3" fill="none" stroke="#f04c58" stroke-width="1.6"/>
<circle cx="235.5" cy="781.3" r="2.3" fill="none" stroke="#f04c58" stroke-width="1.6"/>
<circle cx="255.2" cy="779.3" r="2.3" fill="none" stroke="#f04c58" stroke-width="1.6"/>
<circle cx="274.6" cy="778.5" r="2.3" fill="none" stroke="#f04c58" stroke-width="1.6"/>
</g>
<rect x="169.90" y="695.00" width="115.60" height="127.50" fill="none" stroke="#111" stroke-width="1.8"/>
<line x1="169.90" y1="705.90" x2="172.90" y2="705.90" stroke="#111" stroke-width="1"/>
<line x1="169.90" y1="727.40" x2="172.90" y2="727.40" stroke="#111" stroke-width="1"/>
<line x1="169.90" y1="748.90" x2="172.90" y2="748.90" stroke="#111" stroke-width="1"/>
<line x1="169.90" y1="770.40" x2="172.90" y2="770.40" stroke="#111" stroke-width="1"/>
<line x1="169.90" y1="791.90" x2="172.90" y2="791.90" stroke="#111" stroke-width="1"/>
<line x1="169.90" y1="813.40" x2="172.90" y2="813.40" stroke="#111" stroke-width="1"/>
<line x1="171.05" y1="822.50" x2="171.05" y2="819.50" stroke="#111" stroke-width="1"/>
<line x1="182.52" y1="822.50" x2="182.52" y2="819.50" stroke="#111" stroke-width="1"/>
<text x="182.5" y="834.3" font-size="10.5" text-anchor="middle" fill="#231f20">22</text>
<line x1="193.99" y1="822.50" x2="193.99" y2="819.50" stroke="#111" stroke-width="1"/>
<line x1="205.46" y1="822.50" x2="205.46" y2="819.50" stroke="#111" stroke-width="1"/>
<text x="205.5" y="834.3" font-size="10.5" text-anchor="middle" fill="#231f20">24</text>
<line x1="216.93" y1="822.50" x2="216.93" y2="819.50" stroke="#111" stroke-width="1"/>
<line x1="228.40" y1="822.50" x2="228.40" y2="819.50" stroke="#111" stroke-width="1"/>
<text x="228.4" y="834.3" font-size="10.5" text-anchor="middle" fill="#231f20">26</text>
<line x1="239.87" y1="822.50" x2="239.87" y2="819.50" stroke="#111" stroke-width="1"/>
<line x1="251.34" y1="822.50" x2="251.34" y2="819.50" stroke="#111" stroke-width="1"/>
<text x="251.3" y="834.3" font-size="10.5" text-anchor="middle" fill="#231f20">28</text>
<line x1="262.81" y1="822.50" x2="262.81" y2="819.50" stroke="#111" stroke-width="1"/>
<line x1="274.28" y1="822.50" x2="274.28" y2="819.50" stroke="#111" stroke-width="1"/>
<text x="274.3" y="834.3" font-size="10.5" text-anchor="middle" fill="#231f20">30</text>
<text x="237.5" y="745.8" font-size="10.7" text-anchor="start" fill="#ee3446">-0.009</text>
<text x="181.5" y="808.1" font-size="10.7" text-anchor="start" fill="#7ccae6">-0.009</text>
<g clip-path="url(#clip_e2)">
<line x1="307.70" y1="780.50" x2="403.50" y2="808.90" stroke="#83cbe5" stroke-width="1.6"/>
<line x1="327.00" y1="747.80" x2="403.50" y2="785.60" stroke="#e8203e" stroke-width="1.6"/>
<circle cx="307.7" cy="771.4" r="2.3" fill="none" stroke="#3565a8" stroke-width="1.6"/>
<circle cx="327.0" cy="790.0" r="2.3" fill="none" stroke="#3565a8" stroke-width="1.6"/>
<circle cx="345.9" cy="798.2" r="2.3" fill="none" stroke="#3565a8" stroke-width="1.6"/>
<circle cx="365.2" cy="802.2" r="2.3" fill="none" stroke="#3565a8" stroke-width="1.6"/>
<circle cx="384.5" cy="802.2" r="2.3" fill="none" stroke="#3565a8" stroke-width="1.6"/>
<circle cx="403.5" cy="803.8" r="2.3" fill="none" stroke="#3565a8" stroke-width="1.6"/>
<circle cx="307.7" cy="745.8" r="2.3" fill="none" stroke="#f04c58" stroke-width="1.6"/>
<circle cx="327.0" cy="740.3" r="2.3" fill="none" stroke="#f04c58" stroke-width="1.6"/>
<circle cx="345.9" cy="764.7" r="2.3" fill="none" stroke="#f04c58" stroke-width="1.6"/>
<circle cx="365.2" cy="769.9" r="2.3" fill="none" stroke="#f04c58" stroke-width="1.6"/>
<circle cx="384.5" cy="775.8" r="2.3" fill="none" stroke="#f04c58" stroke-width="1.6"/>
<circle cx="403.5" cy="784.1" r="2.3" fill="none" stroke="#f04c58" stroke-width="1.6"/>
</g>
<rect x="299.40" y="695.00" width="115.60" height="127.50" fill="none" stroke="#111" stroke-width="1.8"/>
<line x1="299.40" y1="705.90" x2="302.40" y2="705.90" stroke="#111" stroke-width="1"/>
<line x1="299.40" y1="727.40" x2="302.40" y2="727.40" stroke="#111" stroke-width="1"/>
<line x1="299.40" y1="748.90" x2="302.40" y2="748.90" stroke="#111" stroke-width="1"/>
<line x1="299.40" y1="770.40" x2="302.40" y2="770.40" stroke="#111" stroke-width="1"/>
<line x1="299.40" y1="791.90" x2="302.40" y2="791.90" stroke="#111" stroke-width="1"/>
<line x1="299.40" y1="813.40" x2="302.40" y2="813.40" stroke="#111" stroke-width="1"/>
<line x1="301.69" y1="822.50" x2="301.69" y2="819.50" stroke="#111" stroke-width="1"/>
<line x1="313.16" y1="822.50" x2="313.16" y2="819.50" stroke="#111" stroke-width="1"/>
<text x="313.2" y="834.3" font-size="10.5" text-anchor="middle" fill="#231f20">42</text>
<line x1="324.63" y1="822.50" x2="324.63" y2="819.50" stroke="#111" stroke-width="1"/>
<line x1="336.10" y1="822.50" x2="336.10" y2="819.50" stroke="#111" stroke-width="1"/>
<text x="336.1" y="834.3" font-size="10.5" text-anchor="middle" fill="#231f20">44</text>
<line x1="347.57" y1="822.50" x2="347.57" y2="819.50" stroke="#111" stroke-width="1"/>
<line x1="359.04" y1="822.50" x2="359.04" y2="819.50" stroke="#111" stroke-width="1"/>
<text x="359.0" y="834.3" font-size="10.5" text-anchor="middle" fill="#231f20">46</text>
<line x1="370.51" y1="822.50" x2="370.51" y2="819.50" stroke="#111" stroke-width="1"/>
<line x1="381.98" y1="822.50" x2="381.98" y2="819.50" stroke="#111" stroke-width="1"/>
<text x="382.0" y="834.3" font-size="10.5" text-anchor="middle" fill="#231f20">48</text>
<line x1="393.45" y1="822.50" x2="393.45" y2="819.50" stroke="#111" stroke-width="1"/>
<line x1="404.92" y1="822.50" x2="404.92" y2="819.50" stroke="#111" stroke-width="1"/>
<text x="404.9" y="834.3" font-size="10.5" text-anchor="middle" fill="#231f20">50</text>
<text x="371.5" y="747.8" font-size="10.7" text-anchor="start" fill="#ee3446">-0.011</text>
<text x="312.8" y="811.3" font-size="10.7" text-anchor="start" fill="#7ccae6">-0.007</text>
<g clip-path="url(#clip_e3)">
<line x1="436.70" y1="789.20" x2="513.50" y2="810.10" stroke="#83cbe5" stroke-width="1.6"/>
<line x1="436.70" y1="726.50" x2="532.90" y2="795.10" stroke="#e8203e" stroke-width="1.6"/>
<circle cx="436.7" cy="781.3" r="2.3" fill="none" stroke="#3565a8" stroke-width="1.6"/>
<circle cx="456.0" cy="800.2" r="2.3" fill="none" stroke="#3565a8" stroke-width="1.6"/>
<circle cx="475.3" cy="807.3" r="2.3" fill="none" stroke="#3565a8" stroke-width="1.6"/>
<circle cx="494.6" cy="804.6" r="2.3" fill="none" stroke="#3565a8" stroke-width="1.6"/>
<circle cx="513.5" cy="805.0" r="2.3" fill="none" stroke="#3565a8" stroke-width="1.6"/>
<circle cx="532.9" cy="788.8" r="2.3" fill="none" stroke="#3565a8" stroke-width="1.6"/>
<circle cx="436.7" cy="719.4" r="2.3" fill="none" stroke="#f04c58" stroke-width="1.6"/>
<circle cx="456.0" cy="738.3" r="2.3" fill="none" stroke="#f04c58" stroke-width="1.6"/>
<circle cx="475.3" cy="765.9" r="2.3" fill="none" stroke="#f04c58" stroke-width="1.6"/>
<circle cx="494.6" cy="775.4" r="2.3" fill="none" stroke="#f04c58" stroke-width="1.6"/>
<circle cx="513.5" cy="773.4" r="2.3" fill="none" stroke="#f04c58" stroke-width="1.6"/>
<circle cx="532.9" cy="791.9" r="2.3" fill="none" stroke="#f04c58" stroke-width="1.6"/>
</g>
<rect x="428.60" y="695.00" width="115.60" height="127.50" fill="none" stroke="#111" stroke-width="1.8"/>
<line x1="428.60" y1="705.90" x2="431.60" y2="705.90" stroke="#111" stroke-width="1"/>
<line x1="428.60" y1="727.40" x2="431.60" y2="727.40" stroke="#111" stroke-width="1"/>
<line x1="428.60" y1="748.90" x2="431.60" y2="748.90" stroke="#111" stroke-width="1"/>
<line x1="428.60" y1="770.40" x2="431.60" y2="770.40" stroke="#111" stroke-width="1"/>
<line x1="428.60" y1="791.90" x2="431.60" y2="791.90" stroke="#111" stroke-width="1"/>
<line x1="428.60" y1="813.40" x2="431.60" y2="813.40" stroke="#111" stroke-width="1"/>
<line x1="430.89" y1="822.50" x2="430.89" y2="819.50" stroke="#111" stroke-width="1"/>
<line x1="442.36" y1="822.50" x2="442.36" y2="819.50" stroke="#111" stroke-width="1"/>
<text x="442.4" y="834.3" font-size="10.5" text-anchor="middle" fill="#231f20">62</text>
<line x1="453.83" y1="822.50" x2="453.83" y2="819.50" stroke="#111" stroke-width="1"/>
<line x1="465.30" y1="822.50" x2="465.30" y2="819.50" stroke="#111" stroke-width="1"/>
<text x="465.3" y="834.3" font-size="10.5" text-anchor="middle" fill="#231f20">64</text>
<line x1="476.77" y1="822.50" x2="476.77" y2="819.50" stroke="#111" stroke-width="1"/>
<line x1="488.24" y1="822.50" x2="488.24" y2="819.50" stroke="#111" stroke-width="1"/>
<text x="488.2" y="834.3" font-size="10.5" text-anchor="middle" fill="#231f20">66</text>
<line x1="499.71" y1="822.50" x2="499.71" y2="819.50" stroke="#111" stroke-width="1"/>
<line x1="511.18" y1="822.50" x2="511.18" y2="819.50" stroke="#111" stroke-width="1"/>
<text x="511.2" y="834.3" font-size="10.5" text-anchor="middle" fill="#231f20">68</text>
<line x1="522.65" y1="822.50" x2="522.65" y2="819.50" stroke="#111" stroke-width="1"/>
<line x1="534.12" y1="822.50" x2="534.12" y2="819.50" stroke="#111" stroke-width="1"/>
<text x="534.1" y="834.3" font-size="10.5" text-anchor="middle" fill="#231f20">70</text>
<text x="495.8" y="746.2" font-size="10.7" text-anchor="start" fill="#ee3446">-0.015</text>
<text x="436.7" y="814.8" font-size="10.7" text-anchor="start" fill="#7ccae6">-0.006</text>
<g clip-path="url(#clip_e4)">
<line x1="566.40" y1="793.50" x2="643.20" y2="806.10" stroke="#83cbe5" stroke-width="1.6"/>
<line x1="566.40" y1="719.40" x2="662.50" y2="809.30" stroke="#e8203e" stroke-width="1.6"/>
<circle cx="566.4" cy="786.4" r="2.3" fill="none" stroke="#3565a8" stroke-width="1.6"/>
<circle cx="585.7" cy="801.4" r="2.3" fill="none" stroke="#3565a8" stroke-width="1.6"/>
<circle cx="605.0" cy="805.0" r="2.3" fill="none" stroke="#3565a8" stroke-width="1.6"/>
<circle cx="624.3" cy="803.4" r="2.3" fill="none" stroke="#3565a8" stroke-width="1.6"/>
<circle cx="643.2" cy="801.8" r="2.3" fill="none" stroke="#3565a8" stroke-width="1.6"/>
<circle cx="662.5" cy="782.1" r="2.3" fill="none" stroke="#3565a8" stroke-width="1.6"/>
<circle cx="566.4" cy="706.4" r="2.3" fill="none" stroke="#f04c58" stroke-width="1.6"/>
<circle cx="585.7" cy="742.3" r="2.3" fill="none" stroke="#f04c58" stroke-width="1.6"/>
<circle cx="605.0" cy="768.3" r="2.3" fill="none" stroke="#f04c58" stroke-width="1.6"/>
<circle cx="624.3" cy="780.5" r="2.3" fill="none" stroke="#f04c58" stroke-width="1.6"/>
<circle cx="643.2" cy="784.5" r="2.3" fill="none" stroke="#f04c58" stroke-width="1.6"/>
<circle cx="662.5" cy="805.0" r="2.3" fill="none" stroke="#f04c58" stroke-width="1.6"/>
</g>
<rect x="558.40" y="695.00" width="115.60" height="127.50" fill="none" stroke="#111" stroke-width="1.8"/>
<line x1="558.40" y1="705.90" x2="561.40" y2="705.90" stroke="#111" stroke-width="1"/>
<line x1="558.40" y1="727.40" x2="561.40" y2="727.40" stroke="#111" stroke-width="1"/>
<line x1="558.40" y1="748.90" x2="561.40" y2="748.90" stroke="#111" stroke-width="1"/>
<line x1="558.40" y1="770.40" x2="561.40" y2="770.40" stroke="#111" stroke-width="1"/>
<line x1="558.40" y1="791.90" x2="561.40" y2="791.90" stroke="#111" stroke-width="1"/>
<line x1="558.40" y1="813.40" x2="561.40" y2="813.40" stroke="#111" stroke-width="1"/>
<line x1="560.69" y1="822.50" x2="560.69" y2="819.50" stroke="#111" stroke-width="1"/>
<line x1="572.16" y1="822.50" x2="572.16" y2="819.50" stroke="#111" stroke-width="1"/>
<text x="572.2" y="834.3" font-size="10.5" text-anchor="middle" fill="#231f20">82</text>
<line x1="583.63" y1="822.50" x2="583.63" y2="819.50" stroke="#111" stroke-width="1"/>
<line x1="595.10" y1="822.50" x2="595.10" y2="819.50" stroke="#111" stroke-width="1"/>
<text x="595.1" y="834.3" font-size="10.5" text-anchor="middle" fill="#231f20">84</text>
<line x1="606.57" y1="822.50" x2="606.57" y2="819.50" stroke="#111" stroke-width="1"/>
<line x1="618.04" y1="822.50" x2="618.04" y2="819.50" stroke="#111" stroke-width="1"/>
<text x="618.0" y="834.3" font-size="10.5" text-anchor="middle" fill="#231f20">86</text>
<line x1="629.51" y1="822.50" x2="629.51" y2="819.50" stroke="#111" stroke-width="1"/>
<line x1="640.98" y1="822.50" x2="640.98" y2="819.50" stroke="#111" stroke-width="1"/>
<text x="641.0" y="834.3" font-size="10.5" text-anchor="middle" fill="#231f20">88</text>
<line x1="652.45" y1="822.50" x2="652.45" y2="819.50" stroke="#111" stroke-width="1"/>
<line x1="663.92" y1="822.50" x2="663.92" y2="819.50" stroke="#111" stroke-width="1"/>
<text x="663.9" y="834.3" font-size="10.5" text-anchor="middle" fill="#231f20">90</text>
<text x="629.8" y="749.8" font-size="10.7" text-anchor="start" fill="#ee3446">-0.020</text>
<text x="572.7" y="818.0" font-size="10.7" text-anchor="start" fill="#7ccae6">-0.004</text>
<text x="37.0" y="731.1" font-size="10.5" text-anchor="end" fill="#231f20">0.24</text>
<text x="37.0" y="774.1" font-size="10.5" text-anchor="end" fill="#231f20">0.16</text>
<text x="37.0" y="817.1" font-size="10.5" text-anchor="end" fill="#231f20">0.08</text>
<line x1="59.00" y1="716.80" x2="84.00" y2="716.80" stroke="#83cbe5" stroke-width="1.6"/>
<line x1="59.00" y1="729.10" x2="84.00" y2="729.10" stroke="#e8203e" stroke-width="1.6"/>
<text x="88.0" y="720.6" font-size="10.7" fill="#231f20" text-anchor="start"><tspan font-style="italic">E</tspan><tspan font-size="6.6" dy="3.0">a</tspan><tspan dy="-3.0"> = -0.8 V</tspan></text>
<text x="88.0" y="733.0" font-size="10.7" fill="#231f20" text-anchor="start"><tspan font-style="italic">E</tspan><tspan font-size="6.6" dy="3.0">a</tspan><tspan dy="-3.0"> = +0.6 V</tspan></text>
<text x="13.0" y="758.7" font-size="12" text-anchor="middle" fill="#231f20" transform="rotate(-90 13.0 758.7)" textLength="104" lengthAdjust="spacingAndGlyphs">Intensity (arb. units)</text>
<text x="358.5" y="850.5" font-size="12" text-anchor="middle" fill="#231f20">Time (s)</text>
<text x="0.0" y="858.8" font-size="19" text-anchor="start" fill="#231f20">f</text>
<g clip-path="url(#clip_f)">
<polygon points="58.6,1004.9 215.8,875.5 215.8,905.8" fill="#fde6e6" stroke="none" stroke-width="1"/>
<polygon points="58.6,1004.9 215.8,905.8 215.8,951.7" fill="#ccd3e1" stroke="none" stroke-width="1"/>
<polygon points="58.6,1004.9 215.8,951.7 215.8,971.7" fill="#cce3f2" stroke="none" stroke-width="1"/>
<line x1="58.60" y1="1004.90" x2="211.40" y2="962.00" stroke="#a9d6f2" stroke-width="1.6" stroke-dasharray="4.5,2.5"/>
<line x1="58.60" y1="1004.90" x2="180.30" y2="958.50" stroke="#7a1424" stroke-width="1.6" stroke-dasharray="4.5,2.5"/>
<line x1="58.60" y1="1004.90" x2="180.30" y2="946.50" stroke="#b0182a" stroke-width="1.6" stroke-dasharray="4.5,2.5"/>
<line x1="58.60" y1="1004.90" x2="211.40" y2="935.80" stroke="#4ea6e6" stroke-width="1.6" stroke-dasharray="4.5,2.5"/>
<line x1="58.60" y1="1004.90" x2="211.40" y2="919.50" stroke="#ee8e96" stroke-width="1.5" stroke-dasharray="4.5,2.5"/>
<line x1="58.60" y1="1004.90" x2="211.40" y2="882.40" stroke="#f7b4b4" stroke-width="1.5" stroke-dasharray="4.5,2.5"/>
<line x1="58.60" y1="1004.90" x2="211.40" y2="912.00" stroke="#1f68ad" stroke-width="1.7" stroke-dasharray="4.5,2.5"/>
<line x1="58.60" y1="1004.90" x2="211.40" y2="910.50" stroke="#1b4a80" stroke-width="1.7" stroke-dasharray="4.5,2.5"/>
<line x1="131.90" y1="989.80" x2="131.90" y2="940.00" stroke="#f3a3a8" stroke-width="1.4"/>
<polygon points="131.9,933.5 129.2,941.0 134.6,941.0" fill="#f3a3a8" stroke="none" stroke-width="1"/>
<line x1="168.30" y1="930.50" x2="168.30" y2="972.00" stroke="#93c6ea" stroke-width="1.4"/>
<polygon points="168.3,978.8 165.6,971.3 171.0,971.3" fill="#93c6ea" stroke="none" stroke-width="1"/>
<rect x="87.60" y="959.20" width="3.20" height="3.20" fill="#1c66ad" stroke="none" stroke-width="1"/>
<rect x="87.60" y="967.70" width="3.20" height="3.20" fill="#1b4a80" stroke="none" stroke-width="1"/>
<rect x="87.60" y="970.30" width="3.20" height="3.20" fill="#6cb8ea" stroke="none" stroke-width="1"/>
<rect x="87.60" y="972.90" width="3.20" height="3.20" fill="#f2a0a0" stroke="none" stroke-width="1"/>
<rect x="87.60" y="975.60" width="3.20" height="3.20" fill="#a9d6f2" stroke="none" stroke-width="1"/>
<rect x="87.60" y="978.80" width="3.20" height="3.20" fill="#8a1626" stroke="none" stroke-width="1"/>
<rect x="118.00" y="942.20" width="3.20" height="3.20" fill="#f09898" stroke="none" stroke-width="1"/>
<rect x="118.00" y="943.80" width="3.20" height="3.20" fill="#f8c0c0" stroke="none" stroke-width="1"/>
<rect x="118.00" y="952.40" width="3.20" height="3.20" fill="#6cb8ea" stroke="none" stroke-width="1"/>
<rect x="118.00" y="955.40" width="3.20" height="3.20" fill="#f09090" stroke="none" stroke-width="1"/>
<rect x="118.00" y="959.60" width="3.20" height="3.20" fill="#a9d6f2" stroke="none" stroke-width="1"/>
<rect x="148.50" y="935.70" width="3.20" height="3.20" fill="#1b4a80" stroke="none" stroke-width="1"/>
<rect x="148.50" y="940.80" width="3.20" height="3.20" fill="#1c66ad" stroke="none" stroke-width="1"/>
<rect x="148.50" y="957.50" width="3.20" height="3.20" fill="#7a1424" stroke="none" stroke-width="1"/>
<rect x="148.50" y="958.40" width="3.20" height="3.20" fill="#c0101a" stroke="none" stroke-width="1"/>
<rect x="148.50" y="966.40" width="3.20" height="3.20" fill="#7a1424" stroke="none" stroke-width="1"/>
<rect x="148.50" y="967.70" width="3.20" height="3.20" fill="#f2a0a0" stroke="none" stroke-width="1"/>
<rect x="148.50" y="971.80" width="3.20" height="3.20" fill="#a9d6f2" stroke="none" stroke-width="1"/>
<rect x="179.10" y="919.30" width="3.20" height="3.20" fill="#f8c0c0" stroke="none" stroke-width="1"/>
<rect x="179.10" y="931.00" width="3.20" height="3.20" fill="#1b4a80" stroke="none" stroke-width="1"/>
<rect x="179.10" y="933.00" width="3.20" height="3.20" fill="#1c66ad" stroke="none" stroke-width="1"/>
<rect x="179.10" y="946.30" width="3.20" height="3.20" fill="#f09090" stroke="none" stroke-width="1"/>
<rect x="179.10" y="952.40" width="3.20" height="3.20" fill="#6cb8ea" stroke="none" stroke-width="1"/>
<rect x="179.10" y="959.60" width="3.20" height="3.20" fill="#a9d6f2" stroke="none" stroke-width="1"/>
<rect x="179.10" y="972.90" width="3.20" height="3.20" fill="#7a1424" stroke="none" stroke-width="1"/>
<rect x="179.10" y="975.90" width="3.20" height="3.20" fill="#a9d6f2" stroke="none" stroke-width="1"/>
<rect x="209.50" y="880.50" width="3.20" height="3.20" fill="#f8c0c0" stroke="none" stroke-width="1"/>
<rect x="209.50" y="917.70" width="3.20" height="3.20" fill="#f09090" stroke="none" stroke-width="1"/>
<rect x="209.50" y="925.80" width="3.20" height="3.20" fill="#1b4a80" stroke="none" stroke-width="1"/>
<rect x="209.50" y="927.90" width="3.20" height="3.20" fill="#1c66ad" stroke="none" stroke-width="1"/>
<rect x="209.50" y="947.90" width="3.20" height="3.20" fill="#4ea6e6" stroke="none" stroke-width="1"/>
<rect x="209.50" y="990.80" width="3.20" height="3.20" fill="#6cb8ea" stroke="none" stroke-width="1"/>
<rect x="209.50" y="1011.30" width="3.20" height="3.20" fill="#c8e4f6" stroke="none" stroke-width="1"/>
<rect x="57.00" y="1003.30" width="3.20" height="3.20" fill="#f8c0c0" stroke="none" stroke-width="1"/>
</g>
<rect x="40.60" y="869.00" width="182.40" height="147.40" fill="none" stroke="#111" stroke-width="2"/>
<line x1="40.60" y1="1004.90" x2="43.80" y2="1004.90" stroke="#111" stroke-width="1.1"/>
<line x1="40.60" y1="982.28" x2="42.60" y2="982.28" stroke="#111" stroke-width="1.1"/>
<line x1="40.60" y1="959.66" x2="43.80" y2="959.66" stroke="#111" stroke-width="1.1"/>
<line x1="40.60" y1="937.04" x2="42.60" y2="937.04" stroke="#111" stroke-width="1.1"/>
<line x1="40.60" y1="914.42" x2="43.80" y2="914.42" stroke="#111" stroke-width="1.1"/>
<line x1="40.60" y1="891.80" x2="42.60" y2="891.80" stroke="#111" stroke-width="1.1"/>
<line x1="40.60" y1="869.18" x2="43.80" y2="869.18" stroke="#111" stroke-width="1.1"/>
<text x="36.3" y="1009.3" font-size="10.5" text-anchor="end" fill="#231f20">0.0</text>
<text x="36.3" y="964.1" font-size="10.5" text-anchor="end" fill="#231f20">0.4</text>
<text x="36.3" y="918.8" font-size="10.5" text-anchor="end" fill="#231f20">0.8</text>
<text x="36.3" y="875.2" font-size="10.5" text-anchor="end" fill="#231f20">1.2</text>
<line x1="58.60" y1="1016.40" x2="58.60" y2="1013.20" stroke="#111" stroke-width="1.1"/>
<text x="58.6" y="1026.2" font-size="10.5" text-anchor="middle" fill="#231f20">0</text>
<line x1="76.90" y1="1016.40" x2="76.90" y2="1014.40" stroke="#111" stroke-width="1.1"/>
<line x1="95.20" y1="1016.40" x2="95.20" y2="1013.20" stroke="#111" stroke-width="1.1"/>
<text x="95.2" y="1026.2" font-size="10.5" text-anchor="middle" fill="#231f20">2</text>
<line x1="113.50" y1="1016.40" x2="113.50" y2="1014.40" stroke="#111" stroke-width="1.1"/>
<line x1="131.80" y1="1016.40" x2="131.80" y2="1013.20" stroke="#111" stroke-width="1.1"/>
<text x="131.8" y="1026.2" font-size="10.5" text-anchor="middle" fill="#231f20">4</text>
<line x1="150.10" y1="1016.40" x2="150.10" y2="1014.40" stroke="#111" stroke-width="1.1"/>
<line x1="168.40" y1="1016.40" x2="168.40" y2="1013.20" stroke="#111" stroke-width="1.1"/>
<text x="168.4" y="1026.2" font-size="10.5" text-anchor="middle" fill="#231f20">6</text>
<line x1="186.70" y1="1016.40" x2="186.70" y2="1014.40" stroke="#111" stroke-width="1.1"/>
<line x1="205.00" y1="1016.40" x2="205.00" y2="1013.20" stroke="#111" stroke-width="1.1"/>
<text x="205.0" y="1026.2" font-size="10.5" text-anchor="middle" fill="#231f20">8</text>
<text x="126.8" y="1039.8" font-size="12.5" text-anchor="middle" fill="#231f20"><tspan font-style="italic">t</tspan> - <tspan font-style="italic">t</tspan><tspan font-style="italic" font-size="7.5" dy="2.5">0</tspan><tspan dy="-2.5"> (s)</tspan></text>
<text x="12.3" y="941.5" font-size="12.5" text-anchor="middle" fill="#231f20" transform="rotate(-90 12.3 941.5)">-ln(A<tspan font-size="7.5" dy="2.5">CO</tspan><tspan dy="-2.5">/A</tspan><tspan font-size="7.5" dy="2.5">0</tspan><tspan dy="-2.5">)</tspan></text>
<text x="43.5" y="878.7" font-size="10.8" text-anchor="start" fill="#231f20" textLength="58.7" lengthAdjust="spacingAndGlyphs">pulsed cycle</text>
<text x="72.2" y="890.9" font-size="10" fill="#231f20">1<tspan font-size="6" dy="-4">st</tspan></text>
<text x="72.2" y="922.5" font-size="10" fill="#231f20">5<tspan font-size="6" dy="-4">th</tspan></text>
<line x1="76.80" y1="892.50" x2="76.80" y2="906.50" stroke="#111" stroke-width="1.3"/>
<polygon points="76.8,912.4 74.1,905.8 79.5,905.8" fill="#111" stroke="none" stroke-width="1"/>
<rect x="103.40" y="872.00" width="26.30" height="53.40" fill="#fff" stroke="#6fc0ec" stroke-width="1"/>
<rect x="131.10" y="872.00" width="25.80" height="53.40" fill="#fff" stroke="#e2508e" stroke-width="1"/>
<text x="111.8" y="879.6" font-size="9" fill="#231f20">R<tspan font-size="5.5" dy="-3.5">2</tspan><tspan dy="3.5"> =</tspan></text>
<text x="139.6" y="879.6" font-size="9" fill="#231f20">R<tspan font-size="5.5" dy="-3.5">2</tspan><tspan dy="3.5"> =</tspan></text>
<rect x="104.90" y="883.20" width="2.80" height="2.80" fill="#1b4a80" stroke="none" stroke-width="1"/>
<text x="111.0" y="887.8" font-size="9" text-anchor="start" fill="#231f20" textLength="15.4" lengthAdjust="spacingAndGlyphs">0.94</text>
<rect x="133.20" y="883.20" width="2.80" height="2.80" fill="#7a1424" stroke="none" stroke-width="1"/>
<text x="139.0" y="887.8" font-size="9" text-anchor="start" fill="#231f20" textLength="15.8" lengthAdjust="spacingAndGlyphs">0.82</text>
<rect x="104.90" y="891.60" width="2.80" height="2.80" fill="#1c66ad" stroke="none" stroke-width="1"/>
<text x="111.0" y="896.2" font-size="9" text-anchor="start" fill="#231f20" textLength="15.4" lengthAdjust="spacingAndGlyphs">0.92</text>
<rect x="133.20" y="891.60" width="2.80" height="2.80" fill="#c00a14" stroke="none" stroke-width="1"/>
<text x="139.0" y="896.2" font-size="9" text-anchor="start" fill="#231f20" textLength="15.8" lengthAdjust="spacingAndGlyphs">0.88</text>
<rect x="104.90" y="900.00" width="2.80" height="2.80" fill="#3aa2e6" stroke="none" stroke-width="1"/>
<text x="111.0" y="904.6" font-size="9" text-anchor="start" fill="#231f20" textLength="15.4" lengthAdjust="spacingAndGlyphs">0.93</text>
<rect x="133.20" y="900.00" width="2.80" height="2.80" fill="#f06a6a" stroke="none" stroke-width="1"/>
<text x="139.0" y="904.6" font-size="9" text-anchor="start" fill="#231f20" textLength="15.8" lengthAdjust="spacingAndGlyphs">0.97</text>
<rect x="104.90" y="908.40" width="2.80" height="2.80" fill="#6cb8ea" stroke="none" stroke-width="1"/>
<text x="111.0" y="913.0" font-size="9" text-anchor="start" fill="#231f20" textLength="15.4" lengthAdjust="spacingAndGlyphs">0.86</text>
<rect x="133.20" y="908.40" width="2.80" height="2.80" fill="#f29a9a" stroke="none" stroke-width="1"/>
<text x="139.0" y="913.0" font-size="9" text-anchor="start" fill="#231f20" textLength="15.8" lengthAdjust="spacingAndGlyphs">0.98</text>
<rect x="104.90" y="916.80" width="2.80" height="2.80" fill="#b4dcf4" stroke="none" stroke-width="1"/>
<text x="111.0" y="921.4" font-size="9" text-anchor="start" fill="#231f20" textLength="15.4" lengthAdjust="spacingAndGlyphs">0.82</text>
<rect x="133.20" y="916.80" width="2.80" height="2.80" fill="#f8c2c2" stroke="none" stroke-width="1"/>
<text x="139.0" y="921.4" font-size="9" text-anchor="start" fill="#231f20" textLength="15.8" lengthAdjust="spacingAndGlyphs">0.99</text>
<rect x="51.40" y="934.20" width="7.00" height="6.50" fill="#cde6f6" stroke="none" stroke-width="1"/>
<rect x="51.40" y="947.30" width="7.00" height="6.30" fill="#fce4e4" stroke="none" stroke-width="1"/>
<text x="61.9" y="939.6" font-size="9.8" fill="#231f20" text-anchor="start"><tspan font-style="italic">E</tspan><tspan font-size="6.1" dy="2.7">a</tspan><tspan dy="-2.7"> = -0.8 V</tspan></text>
<text x="61.9" y="953.6" font-size="9.8" fill="#231f20" text-anchor="start"><tspan font-style="italic">E</tspan><tspan font-size="6.1" dy="2.7">a</tspan><tspan dy="-2.7"> = +0.6 V</tspan></text>
<text x="228.6" y="858.4" font-size="19" text-anchor="start" fill="#231f20">g</text>
<g clip-path="url(#clip_g)">
<path d="M277.2,873.5 C279.1,875.8 284.8,882.9 288.6,887.4 C292.4,891.9 296.4,896.7 300.2,900.7 C304.0,904.7 307.8,908.0 311.6,911.4 C315.4,914.8 317.3,917.2 323.0,920.8 C328.7,924.4 337.4,928.8 345.7,932.8 C354.0,936.8 365.0,941.2 372.7,944.8 C380.4,948.4 384.9,952.0 391.6,954.2 C398.3,956.4 405.4,957.5 413.0,958.2 C420.6,958.9 433.1,958.2 437.1,958.2 L437.1,1003.6 C433.1,1001.6 420.6,995.4 413.0,991.6 C405.4,987.8 398.3,984.0 391.6,980.9 C384.9,977.8 380.4,975.6 372.7,972.9 C365.0,970.2 354.0,967.8 345.7,964.9 C337.4,962.0 328.7,958.2 323.0,955.5 C317.3,952.8 315.4,951.2 311.6,948.8 C307.8,946.3 304.0,943.7 300.2,940.8 C296.4,937.9 292.4,934.4 288.6,931.5 C284.8,928.6 279.1,924.8 277.2,923.4 Z" fill="#8ccdf5" stroke="none" stroke-width="1" fill-opacity="0.22"/>
<path d="M277.2,927.4 C279.1,926.1 284.8,922.1 288.6,919.4 C292.4,916.7 296.4,913.6 300.2,911.4 C304.0,909.2 307.8,907.4 311.6,906.1 C315.4,904.8 317.3,904.1 323.0,903.4 C328.7,902.7 337.4,902.5 345.7,902.1 C354.0,901.7 362.8,901.2 372.7,900.7 C382.6,900.2 394.3,899.6 405.0,899.2 C415.7,898.8 431.8,898.3 437.1,898.1 L437.1,919.4 C431.8,919.2 415.7,918.6 405.0,918.4 C394.3,918.2 382.6,917.9 372.7,918.1 C362.8,918.3 354.0,918.7 345.7,919.4 C337.4,920.1 328.7,920.8 323.0,922.1 C317.3,923.4 315.4,924.7 311.6,927.4 C307.8,930.1 304.0,934.1 300.2,938.1 C296.4,942.1 291.8,945.9 288.6,951.5 C285.4,957.1 282.9,964.8 281.0,972.0 C279.1,979.2 277.8,991.2 277.2,995.0 Z" fill="#f6a3ab" stroke="none" stroke-width="1" fill-opacity="0.25"/>
</g>
<rect x="275.23" y="904.98" width="3.80" height="3.80" fill="#3fb0f2" stroke="none" stroke-width="1"/>
<rect x="286.66" y="907.96" width="3.80" height="3.80" fill="#3fb0f2" stroke="none" stroke-width="1"/>
<rect x="298.09" y="919.86" width="3.80" height="3.80" fill="#3fb0f2" stroke="none" stroke-width="1"/>
<rect x="309.52" y="937.72" width="3.80" height="3.80" fill="#3fb0f2" stroke="none" stroke-width="1"/>
<rect x="320.95" y="964.50" width="3.80" height="3.80" fill="#3fb0f2" stroke="none" stroke-width="1"/>
<rect x="332.38" y="960.53" width="3.80" height="3.80" fill="#3fb0f2" stroke="none" stroke-width="1"/>
<rect x="343.81" y="971.44" width="3.80" height="3.80" fill="#3fb0f2" stroke="none" stroke-width="1"/>
<rect x="355.24" y="979.38" width="3.80" height="3.80" fill="#3fb0f2" stroke="none" stroke-width="1"/>
<rect x="366.67" y="926.80" width="3.80" height="3.80" fill="#3fb0f2" stroke="none" stroke-width="1"/>
<rect x="378.10" y="946.64" width="3.80" height="3.80" fill="#3fb0f2" stroke="none" stroke-width="1"/>
<rect x="389.53" y="961.52" width="3.80" height="3.80" fill="#3fb0f2" stroke="none" stroke-width="1"/>
<rect x="400.96" y="953.59" width="3.80" height="3.80" fill="#3fb0f2" stroke="none" stroke-width="1"/>
<rect x="412.39" y="982.36" width="3.80" height="3.80" fill="#3fb0f2" stroke="none" stroke-width="1"/>
<rect x="423.82" y="995.25" width="3.80" height="3.80" fill="#3fb0f2" stroke="none" stroke-width="1"/>
<rect x="435.25" y="1000.21" width="3.80" height="3.80" fill="#3fb0f2" stroke="none" stroke-width="1"/>
<circle cx="277.1" cy="954.5" r="3.0" fill="#ef5d66" fill-opacity="1"/>
<circle cx="288.6" cy="935.6" r="3.0" fill="#ef5d66" fill-opacity="0.75"/>
<circle cx="300.0" cy="931.7" r="3.0" fill="#ef5d66" fill-opacity="0.75"/>
<circle cx="311.4" cy="928.7" r="3.0" fill="#ef5d66" fill-opacity="0.75"/>
<circle cx="322.8" cy="887.0" r="3.0" fill="#ef5d66" fill-opacity="1"/>
<circle cx="334.3" cy="926.7" r="3.0" fill="#ef5d66" fill-opacity="1"/>
<circle cx="345.7" cy="898.9" r="3.0" fill="#ef5d66" fill-opacity="1"/>
<circle cx="357.1" cy="922.8" r="3.0" fill="#ef5d66" fill-opacity="1"/>
<circle cx="368.6" cy="894.0" r="3.0" fill="#ef5d66" fill-opacity="1"/>
<circle cx="380.0" cy="928.7" r="3.0" fill="#ef5d66" fill-opacity="1"/>
<circle cx="391.4" cy="898.9" r="3.0" fill="#ef5d66" fill-opacity="1"/>
<circle cx="402.9" cy="916.8" r="3.0" fill="#ef5d66" fill-opacity="1"/>
<circle cx="414.3" cy="911.8" r="3.0" fill="#ef5d66" fill-opacity="1"/>
<circle cx="425.7" cy="905.9" r="3.0" fill="#ef5d66" fill-opacity="1"/>
<circle cx="437.1" cy="914.8" r="3.0" fill="#ef5d66" fill-opacity="1"/>
<rect x="265.90" y="866.70" width="182.90" height="149.30" fill="none" stroke="#111" stroke-width="2"/>
<text x="263.7" y="1019.8" font-size="11" text-anchor="end" fill="#231f20">0.00</text>
<line x1="265.90" y1="991.20" x2="267.90" y2="991.20" stroke="#111" stroke-width="1.1"/>
<line x1="265.90" y1="966.40" x2="269.10" y2="966.40" stroke="#111" stroke-width="1.1"/>
<text x="263.7" y="970.2" font-size="11" text-anchor="end" fill="#231f20">0.05</text>
<line x1="265.90" y1="941.60" x2="267.90" y2="941.60" stroke="#111" stroke-width="1.1"/>
<line x1="265.90" y1="916.80" x2="269.10" y2="916.80" stroke="#111" stroke-width="1.1"/>
<text x="263.7" y="920.6" font-size="11" text-anchor="end" fill="#231f20">0.10</text>
<line x1="265.90" y1="892.00" x2="267.90" y2="892.00" stroke="#111" stroke-width="1.1"/>
<text x="263.7" y="871.0" font-size="11" text-anchor="end" fill="#231f20">0.15</text>
<text x="265.7" y="1026.0" font-size="11" text-anchor="middle" fill="#231f20">0</text>
<line x1="282.84" y1="1016.00" x2="282.84" y2="1014.00" stroke="#111" stroke-width="1.1"/>
<line x1="299.99" y1="1016.00" x2="299.99" y2="1012.80" stroke="#111" stroke-width="1.1"/>
<text x="300.0" y="1026.0" font-size="11" text-anchor="middle" fill="#231f20">3</text>
<line x1="317.13" y1="1016.00" x2="317.13" y2="1014.00" stroke="#111" stroke-width="1.1"/>
<line x1="334.28" y1="1016.00" x2="334.28" y2="1012.80" stroke="#111" stroke-width="1.1"/>
<text x="334.3" y="1026.0" font-size="11" text-anchor="middle" fill="#231f20">6</text>
<line x1="351.42" y1="1016.00" x2="351.42" y2="1014.00" stroke="#111" stroke-width="1.1"/>
<line x1="368.57" y1="1016.00" x2="368.57" y2="1012.80" stroke="#111" stroke-width="1.1"/>
<text x="368.6" y="1026.0" font-size="11" text-anchor="middle" fill="#231f20">9</text>
<line x1="385.71" y1="1016.00" x2="385.71" y2="1014.00" stroke="#111" stroke-width="1.1"/>
<line x1="402.86" y1="1016.00" x2="402.86" y2="1012.80" stroke="#111" stroke-width="1.1"/>
<text x="402.9" y="1026.0" font-size="11" text-anchor="middle" fill="#231f20">12</text>
<line x1="420.00" y1="1016.00" x2="420.00" y2="1014.00" stroke="#111" stroke-width="1.1"/>
<line x1="437.15" y1="1016.00" x2="437.15" y2="1012.80" stroke="#111" stroke-width="1.1"/>
<text x="437.1" y="1026.0" font-size="11" text-anchor="middle" fill="#231f20">15</text>
<text x="357.0" y="1040.0" font-size="12" text-anchor="middle" fill="#231f20" textLength="70" lengthAdjust="spacingAndGlyphs">cycle number</text>
<text x="241.0" y="935.5" font-size="13" text-anchor="middle" fill="#231f20" transform="rotate(-90 241.0 935.5)"><tspan font-style="italic">k</tspan><tspan font-style="italic" font-size="8" dy="3">d</tspan></text>
<text x="375.0" y="887.0" font-size="10.0" fill="#f07c86" text-anchor="start"><tspan font-style="italic">E</tspan><tspan font-size="6.2" dy="2.8">a</tspan><tspan dy="-2.8"> = +0.6 V</tspan></text>
<text x="376.0" y="1007.0" font-size="10.0" fill="#4fb6f0" text-anchor="start"><tspan font-style="italic">E</tspan><tspan font-size="6.2" dy="2.8">a</tspan><tspan dy="-2.8"> = -0.8 V</tspan></text>
<text x="455.6" y="858.4" font-size="19" text-anchor="start" fill="#231f20">h</text>
<rect x="499.80" y="962.34" width="14.90" height="18.66" fill="#1a6e64" stroke="#222" stroke-width="1"/>
<rect x="514.70" y="981.00" width="14.80" height="4.00" fill="#0e9c8c" stroke="#222" stroke-width="1"/>
<rect x="529.50" y="981.00" width="14.00" height="4.00" fill="#2bc5b3" stroke="#222" stroke-width="1"/>
<rect x="543.50" y="981.00" width="15.20" height="7.11" fill="#b4e6d6" stroke="#222" stroke-width="1"/>
<rect x="558.70" y="969.89" width="14.70" height="11.11" fill="#fdd5a5" stroke="#222" stroke-width="1"/>
<rect x="591.20" y="981.00" width="14.90" height="18.22" fill="#1a6e64" stroke="#222" stroke-width="1"/>
<rect x="606.10" y="941.00" width="14.30" height="40.00" fill="#0e9c8c" stroke="#222" stroke-width="1"/>
<rect x="620.40" y="929.89" width="14.80" height="51.11" fill="#2bc5b3" stroke="#222" stroke-width="1"/>
<rect x="635.20" y="887.68" width="14.50" height="93.32" fill="#b4e6d6" stroke="#222" stroke-width="1"/>
<rect x="649.70" y="883.23" width="14.90" height="97.77" fill="#fdd5a5" stroke="#222" stroke-width="1"/>
<line x1="490.90" y1="981.00" x2="673.70" y2="981.00" stroke="#222" stroke-width="1.1"/>
<rect x="490.90" y="869.30" width="182.80" height="147.30" fill="none" stroke="#222" stroke-width="1.4"/>
<line x1="490.90" y1="1014.33" x2="492.90" y2="1014.33" stroke="#222" stroke-width="1.1"/>
<line x1="490.90" y1="1003.22" x2="494.10" y2="1003.22" stroke="#222" stroke-width="1.1"/>
<text x="488.0" y="1007.0" font-size="10.5" text-anchor="end" fill="#231f20">−50</text>
<line x1="490.90" y1="992.11" x2="492.90" y2="992.11" stroke="#222" stroke-width="1.1"/>
<line x1="490.90" y1="981.00" x2="494.10" y2="981.00" stroke="#222" stroke-width="1.1"/>
<text x="488.0" y="984.8" font-size="10.5" text-anchor="end" fill="#231f20">0</text>
<line x1="490.90" y1="969.89" x2="492.90" y2="969.89" stroke="#222" stroke-width="1.1"/>
<line x1="490.90" y1="958.78" x2="494.10" y2="958.78" stroke="#222" stroke-width="1.1"/>
<text x="488.0" y="962.6" font-size="10.5" text-anchor="end" fill="#231f20">50</text>
<line x1="490.90" y1="947.67" x2="492.90" y2="947.67" stroke="#222" stroke-width="1.1"/>
<line x1="490.90" y1="936.56" x2="494.10" y2="936.56" stroke="#222" stroke-width="1.1"/>
<text x="488.0" y="940.4" font-size="10.5" text-anchor="end" fill="#231f20">100</text>
<line x1="490.90" y1="925.45" x2="492.90" y2="925.45" stroke="#222" stroke-width="1.1"/>
<line x1="490.90" y1="914.34" x2="494.10" y2="914.34" stroke="#222" stroke-width="1.1"/>
<text x="488.0" y="918.1" font-size="10.5" text-anchor="end" fill="#231f20">150</text>
<line x1="490.90" y1="903.23" x2="492.90" y2="903.23" stroke="#222" stroke-width="1.1"/>
<line x1="490.90" y1="892.12" x2="494.10" y2="892.12" stroke="#222" stroke-width="1.1"/>
<text x="488.0" y="895.9" font-size="10.5" text-anchor="end" fill="#231f20">200</text>
<line x1="490.90" y1="881.01" x2="492.90" y2="881.01" stroke="#222" stroke-width="1.1"/>
<line x1="490.90" y1="869.90" x2="494.10" y2="869.90" stroke="#222" stroke-width="1.1"/>
<text x="488.0" y="873.7" font-size="10.5" text-anchor="end" fill="#231f20">250</text>
<line x1="536.60" y1="1016.60" x2="536.60" y2="1013.40" stroke="#222" stroke-width="1.1"/>
<line x1="627.90" y1="1016.60" x2="627.90" y2="1013.40" stroke="#222" stroke-width="1.1"/>
<text x="536.8" y="1036.0" font-size="12" fill="#231f20" text-anchor="middle"><tspan font-style="italic">E</tspan><tspan font-size="7.4" dy="3.4">a</tspan><tspan dy="-3.4"> = -0.8 V</tspan></text>
<text x="633.8" y="1036.0" font-size="12" fill="#231f20" text-anchor="middle"><tspan font-style="italic">E</tspan><tspan font-size="7.4" dy="3.4">a</tspan><tspan dy="-3.4"> = +0.6 V</tspan></text>
<text x="466.3" y="934.0" font-size="11" text-anchor="middle" fill="#231f20" transform="rotate(-90 466.3 934.0)" textLength="97" lengthAdjust="spacingAndGlyphs">Relative change (%)</text>
<rect x="499.40" y="875.50" width="17.10" height="8.40" fill="#1a6e64" stroke="#222" stroke-width="1"/>
<text x="519.0" y="883.4" font-size="10.5" fill="#231f20">H<tspan font-size="6.5" dy="2.5">2</tspan></text>
<rect x="499.40" y="887.80" width="17.10" height="8.40" fill="#0e9c8c" stroke="#222" stroke-width="1"/>
<text x="519.0" y="895.7" font-size="10.5" fill="#231f20">CO</text>
<rect x="499.40" y="900.00" width="17.10" height="8.40" fill="#2bc5b3" stroke="#222" stroke-width="1"/>
<text x="519.0" y="907.9" font-size="10.5" fill="#231f20">CH<tspan font-size="6.5" dy="2.5">4</tspan></text>
<rect x="499.40" y="912.10" width="17.10" height="8.40" fill="#b4e6d6" stroke="#222" stroke-width="1"/>
<text x="519.0" y="920.0" font-size="10.5" fill="#231f20">C<tspan font-size="6.5" dy="2.5">2</tspan><tspan dy="-2.5">H<tspan font-size="6.5" dy="2.5">4</tspan></tspan></text>
<rect x="499.40" y="924.10" width="17.10" height="8.40" fill="#fdd5a5" stroke="#222" stroke-width="1"/>
<text x="519.0" y="932.0" font-size="10.5" fill="#231f20">C<tspan font-size="6.5" dy="2.5">2</tspan><tspan dy="-2.5">H<tspan font-size="6.5" dy="2.5">5</tspan><tspan dy="-2.5">OH</tspan></tspan></text>
</svg></body></html>
